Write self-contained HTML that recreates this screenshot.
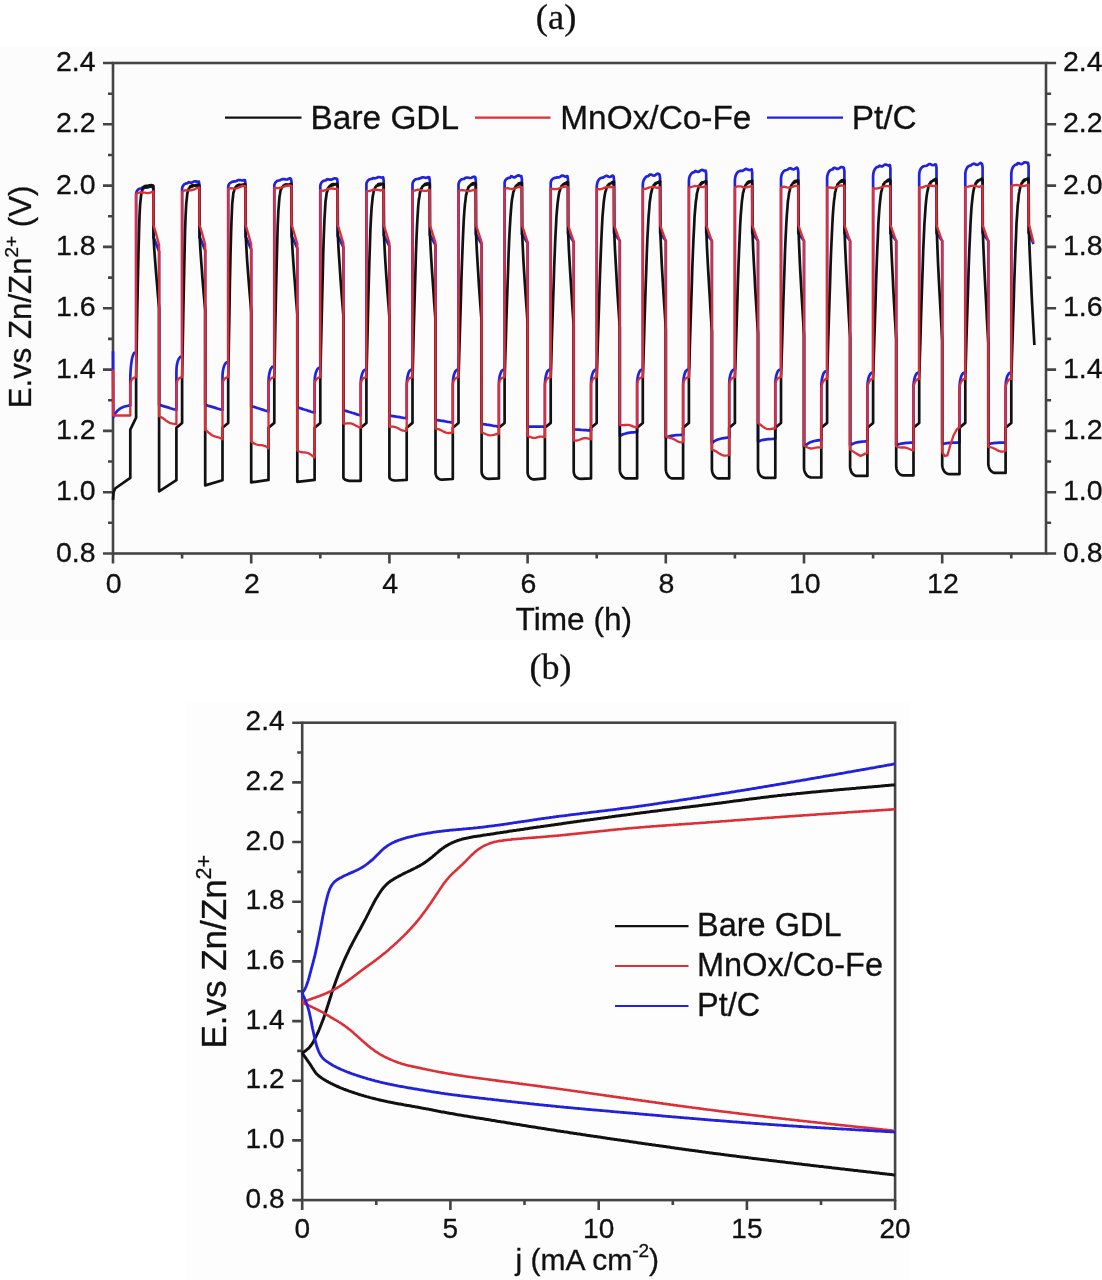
<!DOCTYPE html>
<html><head><meta charset="utf-8"><style>
html,body{margin:0;padding:0;background:#fff;}
body{width:1102px;height:1280px;overflow:hidden;position:relative;}
svg{position:absolute;left:0;top:0;filter:blur(0.45px);}
text{font-family:"Liberation Sans",sans-serif;fill:#111;stroke:#111;stroke-width:0.3px;}
.tl{font-size:28.5px;}
.ser{font-family:"Liberation Serif",serif;font-size:36px;}
</style></head><body>
<svg width="1102" height="1280" viewBox="0 0 1102 1280">
<rect x="0" y="47" width="1102" height="593" fill="#fcfcfc"/>
<rect x="186" y="703" width="724" height="577" fill="#fdfdfd"/>
<text x="535.8" y="28.8" class="ser" style="font-size:36.5px">(a)</text>
<text x="529.5" y="679" class="ser" style="font-size:36px">(b)</text>
<rect x="113.0" y="63.0" width="933.0" height="490.5" fill="none" stroke="#444444" stroke-width="2.6"/>
<path d="M103.0 553.5H113.0M1046.1 553.5H1056.1M108.0 522.8H113.0M1046.1 522.8H1051.1M103.0 492.2H113.0M1046.1 492.2H1056.1M108.0 461.5H113.0M1046.1 461.5H1051.1M103.0 430.9H113.0M1046.1 430.9H1056.1M108.0 400.2H113.0M1046.1 400.2H1051.1M103.0 369.6H113.0M1046.1 369.6H1056.1M108.0 338.9H113.0M1046.1 338.9H1051.1M103.0 308.2H113.0M1046.1 308.2H1056.1M108.0 277.6H113.0M1046.1 277.6H1051.1M103.0 246.9H113.0M1046.1 246.9H1056.1M108.0 216.3H113.0M1046.1 216.3H1051.1M103.0 185.6H113.0M1046.1 185.6H1056.1M108.0 155.0H113.0M1046.1 155.0H1051.1M103.0 124.3H113.0M1046.1 124.3H1056.1M108.0 93.7H113.0M1046.1 93.7H1051.1M103.0 63.0H113.0M1046.1 63.0H1056.1M113.0 553.5V563.5M182.1 553.5V558.5M251.2 553.5V563.5M320.3 553.5V558.5M389.4 553.5V563.5M458.6 553.5V558.5M527.6 553.5V563.5M596.7 553.5V558.5M665.8 553.5V563.5M734.9 553.5V558.5M804.0 553.5V563.5M873.1 553.5V558.5M942.2 553.5V563.5M1011.3 553.5V558.5" stroke="#444444" stroke-width="2.6" fill="none"/>
<path d="M113.0 351.2L113.3 417.1L115.2 413.4L117.4 410.8L119.5 409.0L121.7 407.7L123.8 406.8L126.0 406.2L128.2 405.7L130.3 405.4L130.3 378.8L130.4 374.6L130.6 370.6L130.9 366.8L131.3 363.3L131.8 360.1L132.3 357.4L133.0 355.3L133.7 353.7L134.5 352.7L135.2 352.4L136.1 351.8L136.1 193.9L136.2 192.8L136.5 191.8L137.0 190.8L137.7 190.0L138.5 189.3L139.5 188.8L140.5 188.5L141.6 188.4L142.5 187.3L143.5 187.1L144.4 187.1L145.3 187.4L146.2 187.6L147.1 187.6L148.1 187.4L149.0 187.0L149.9 186.5L150.8 186.3L151.7 186.3L152.8 186.9L153.4 190.2L153.4 237.7L154.4 239.3L159.1 251.5L159.1 404.8L160.8 405.3L162.6 405.9L164.3 406.4L166.0 406.9L167.8 407.4L169.5 407.9L171.2 408.5L172.9 409.0L174.7 409.5L176.4 410.0L176.4 372.0L176.5 369.6L176.6 367.3L176.9 365.1L177.3 363.0L177.8 361.2L178.4 359.6L179.1 358.4L179.8 357.4L180.5 356.9L181.3 356.7L182.1 356.1L182.1 188.7L182.3 187.6L182.6 186.6L183.1 185.6L183.8 184.8L184.6 184.1L185.6 183.6L186.6 183.3L187.7 183.2L188.6 182.2L189.5 182.4L190.4 182.6L191.4 182.6L192.3 182.3L193.2 181.9L194.1 181.5L195.0 181.3L196.0 181.4L196.9 181.6L197.8 181.8L198.9 181.6L199.4 185.0L199.4 237.3L200.5 238.8L205.2 250.5L205.2 404.8L206.9 405.3L208.6 405.9L210.4 406.4L212.1 406.9L213.8 407.4L215.5 407.9L217.3 408.5L219.0 409.0L220.7 409.5L222.5 410.0L222.5 377.5L222.5 375.1L222.7 372.8L223.0 370.6L223.4 368.5L223.9 366.7L224.5 365.1L225.1 363.9L225.8 363.0L226.6 362.4L227.4 362.2L228.2 361.6L228.2 187.2L228.3 186.1L228.6 185.0L229.1 184.1L229.8 183.3L230.7 182.6L231.6 182.1L232.7 181.7L233.7 181.6L234.7 181.3L235.6 181.3L236.5 181.0L237.4 180.5L238.4 180.1L239.3 180.0L240.2 180.1L241.1 180.3L242.0 180.5L243.0 180.4L243.9 180.1L244.9 180.1L245.5 183.5L245.5 236.8L246.5 238.4L251.2 249.4L251.2 406.0L253.0 406.6L254.7 407.1L256.4 407.7L258.2 408.3L259.9 408.8L261.6 409.4L263.3 409.9L265.1 410.5L266.8 411.0L268.5 411.6L268.5 381.8L268.6 379.4L268.8 377.1L269.1 374.9L269.5 372.8L270.0 371.0L270.5 369.4L271.2 368.2L271.9 367.2L272.7 366.7L273.4 366.5L274.3 365.9L274.3 185.9L274.4 184.9L274.7 183.8L275.2 182.9L275.9 182.0L276.7 181.3L277.7 180.8L278.7 180.5L279.8 180.4L280.7 179.9L281.7 179.4L282.6 179.1L283.5 179.0L284.4 179.1L285.3 179.4L286.3 179.5L287.2 179.4L288.1 179.1L289.0 178.6L289.9 178.3L291.0 178.9L291.6 182.3L291.6 236.4L292.6 237.9L297.3 248.3L297.3 407.3L299.0 407.8L300.8 408.4L302.5 408.9L304.2 409.5L306.0 410.0L307.7 410.6L309.4 411.1L311.1 411.7L312.9 412.2L314.6 412.8L314.6 383.1L314.7 380.7L314.8 378.3L315.1 376.1L315.5 374.0L316.0 372.2L316.6 370.7L317.3 369.4L318.0 368.5L318.7 367.9L319.5 367.7L320.3 367.1L320.3 185.9L320.5 184.9L320.8 183.8L321.3 182.9L322.0 182.0L322.8 181.3L323.8 180.8L324.8 180.5L325.9 180.4L326.8 179.3L327.7 179.2L328.6 179.4L329.6 179.6L330.5 179.7L331.4 179.6L332.3 179.2L333.2 178.8L334.2 178.4L335.1 178.4L336.0 178.6L337.1 178.9L337.6 182.3L337.6 235.9L338.7 237.4L343.4 247.2L343.4 410.0L345.1 410.6L346.8 411.1L348.6 411.7L350.3 412.2L352.0 412.8L353.7 413.3L355.5 413.9L357.2 414.4L358.9 415.0L360.7 415.5L360.7 384.9L360.7 382.5L360.9 380.2L361.2 377.9L361.6 375.9L362.1 374.1L362.7 372.5L363.3 371.2L364.0 370.3L364.8 369.8L365.6 369.6L366.4 368.9L366.4 184.4L366.5 183.3L366.8 182.3L367.3 181.3L368.0 180.5L368.9 179.8L369.8 179.3L370.9 179.0L371.9 178.9L372.9 178.1L373.8 178.3L374.7 178.4L375.6 178.2L376.6 177.8L377.5 177.4L378.4 177.1L379.3 177.1L380.2 177.3L381.2 177.5L382.1 177.6L383.1 177.3L383.7 180.7L383.7 235.4L384.7 237.0L389.4 246.2L389.4 415.5L391.2 415.8L392.9 416.1L394.6 416.4L396.4 416.7L398.1 416.9L399.8 417.2L401.5 417.5L403.3 417.8L405.0 418.0L406.7 418.3L406.7 384.9L406.8 382.5L407.0 380.2L407.3 377.9L407.7 375.9L408.2 374.1L408.7 372.5L409.4 371.2L410.1 370.3L410.9 369.8L411.6 369.6L412.5 368.9L412.5 184.4L412.6 183.3L412.9 182.3L413.4 181.3L414.1 180.5L414.9 179.8L415.9 179.3L416.9 179.0L418.0 178.9L418.9 178.6L419.9 178.4L420.8 178.0L421.7 177.5L422.6 177.3L423.5 177.3L424.5 177.5L425.4 177.8L426.3 177.8L427.2 177.6L428.1 177.1L429.2 177.3L429.8 180.7L429.8 235.0L430.8 236.5L435.5 245.1L435.5 419.8L437.2 420.1L439.0 420.4L440.7 420.7L442.4 420.9L444.2 421.2L445.9 421.5L447.6 421.8L449.3 422.0L451.1 422.3L452.8 422.6L452.8 384.9L452.9 382.5L453.0 380.2L453.3 377.9L453.7 375.9L454.2 374.1L454.8 372.5L455.5 371.2L456.2 370.3L456.9 369.8L457.7 369.6L458.5 368.9L458.5 184.4L458.7 183.3L459.0 182.3L459.5 181.3L460.2 180.5L461.0 179.8L462.0 179.3L463.0 179.0L464.1 178.9L465.0 178.1L465.9 177.7L466.8 177.5L467.8 177.6L468.7 177.8L469.6 178.0L470.5 178.0L471.4 177.7L472.4 177.3L473.3 176.9L474.2 176.7L475.3 177.3L475.8 180.7L475.8 234.5L476.9 236.1L481.6 244.0L481.6 423.8L483.3 424.1L485.0 424.4L486.8 424.7L488.5 424.9L490.2 425.2L491.9 425.5L493.7 425.8L495.4 426.0L497.1 426.3L498.9 426.6L498.9 384.9L498.9 382.5L499.1 380.2L499.4 377.9L499.8 375.9L500.3 374.1L500.9 372.5L501.5 371.2L502.2 370.3L503.0 369.8L503.8 369.6L504.6 368.9L504.6 183.2L504.7 182.1L505.0 181.1L505.5 180.1L506.2 179.3L507.1 178.6L508.0 178.1L509.1 177.8L510.1 177.7L511.1 176.2L512.0 176.4L512.9 176.9L513.8 177.3L514.8 177.3L515.7 176.8L516.6 176.1L517.5 175.6L518.4 175.4L519.4 175.6L520.3 176.1L521.3 176.1L521.9 179.5L521.9 234.1L522.9 235.6L527.6 243.0L527.6 426.6L529.4 426.6L531.1 426.6L532.8 426.6L534.6 426.6L536.3 426.6L538.0 426.6L539.7 426.6L541.5 426.6L543.2 426.6L544.9 426.6L544.9 384.9L545.0 382.5L545.2 380.2L545.5 377.9L545.9 375.9L546.4 374.1L546.9 372.5L547.6 371.2L548.3 370.3L549.1 369.8L549.8 369.6L550.7 368.9L550.7 183.2L550.8 182.1L551.1 181.1L551.6 180.1L552.3 179.3L553.1 178.6L554.1 178.1L555.1 177.8L556.2 177.7L557.1 177.2L558.1 177.5L559.0 177.4L559.9 176.9L560.8 176.2L561.7 175.7L562.7 175.6L563.6 175.9L564.5 176.4L565.4 176.7L566.3 176.6L567.4 176.1L568.0 179.5L568.0 233.6L569.0 235.1L573.7 241.9L573.7 429.3L575.4 429.5L577.2 429.6L578.9 429.7L580.6 429.8L582.4 430.0L584.1 430.1L585.8 430.2L587.5 430.3L589.3 430.4L591.0 430.6L591.0 384.9L591.1 382.5L591.2 380.2L591.5 377.9L591.9 375.9L592.4 374.1L593.0 372.5L593.7 371.2L594.4 370.3L595.1 369.8L595.9 369.6L596.7 368.9L596.7 186.9L596.9 185.1L597.2 183.3L597.7 181.7L598.4 180.3L599.2 179.2L600.2 178.4L601.2 177.8L602.3 177.7L603.2 177.6L604.1 177.0L605.0 176.4L606.0 175.9L606.9 175.9L607.8 176.2L608.7 176.7L609.6 177.0L610.6 176.8L611.5 176.2L612.4 175.5L613.5 176.1L614.0 179.5L614.0 233.1L615.1 234.7L619.8 240.8L619.8 436.1L621.5 435.0L623.2 434.2L625.0 433.7L626.7 433.2L628.4 432.9L630.1 432.6L631.9 432.4L633.6 432.3L635.3 432.2L637.1 432.1L637.1 384.9L637.1 382.5L637.3 380.2L637.6 377.9L638.0 375.9L638.5 374.1L639.1 372.5L639.7 371.2L640.4 370.3L641.2 369.8L642.0 369.6L642.8 368.9L642.8 185.3L642.9 183.5L643.2 181.8L643.7 180.2L644.4 178.8L645.3 177.7L646.2 176.8L647.3 176.3L648.3 176.1L649.3 175.0L650.2 174.5L651.1 174.6L652.0 175.0L653.0 175.5L653.9 175.7L654.8 175.4L655.7 174.8L656.6 174.1L657.6 173.7L658.5 173.8L659.5 174.6L660.1 178.0L660.1 233.1L661.1 234.7L665.8 240.8L665.8 437.6L667.6 436.9L669.3 436.3L671.0 435.9L672.8 435.6L674.5 435.4L676.2 435.2L677.9 435.1L679.7 435.0L681.4 434.9L683.1 434.9L683.1 384.9L683.2 382.5L683.4 380.2L683.7 377.9L684.1 375.9L684.6 374.1L685.1 372.5L685.8 371.2L686.5 370.3L687.3 369.8L688.0 369.6L688.9 368.9L688.9 181.3L689.0 179.5L689.3 177.8L689.8 176.2L690.5 174.8L691.3 173.7L692.3 172.8L693.3 172.3L694.4 172.1L695.3 170.9L696.3 171.3L697.2 171.7L698.1 171.9L699.0 171.6L699.9 170.9L700.9 170.3L701.8 169.9L702.7 170.1L703.6 170.5L704.5 170.9L705.6 170.6L706.2 174.0L706.2 233.1L707.2 234.7L711.9 240.8L711.9 443.1L713.6 441.7L715.4 440.6L717.1 439.8L718.8 439.2L720.6 438.7L722.3 438.3L724.0 438.1L725.7 437.9L727.5 437.7L729.2 437.6L729.2 384.9L729.3 382.5L729.4 380.2L729.7 377.9L730.1 375.9L730.6 374.1L731.2 372.5L731.9 371.2L732.6 370.3L733.3 369.8L734.1 369.6L734.9 368.9L734.9 180.1L735.1 178.3L735.4 176.6L735.9 175.0L736.6 173.6L737.4 172.5L738.4 171.6L739.4 171.1L740.5 170.9L741.4 170.8L742.3 170.9L743.2 170.5L744.2 169.8L745.1 169.2L746.0 168.9L746.9 169.1L747.8 169.6L748.8 170.0L749.7 170.0L750.6 169.7L751.7 169.4L752.2 172.7L752.2 233.1L753.3 234.7L758.0 240.8L758.0 441.6L759.7 440.9L761.4 440.3L763.2 439.9L764.9 439.6L766.6 439.4L768.3 439.2L770.1 439.1L771.8 439.0L773.5 438.9L775.3 438.8L775.3 384.9L775.3 382.5L775.5 380.2L775.8 377.9L776.2 375.9L776.7 374.1L777.3 372.5L777.9 371.2L778.6 370.3L779.4 369.8L780.2 369.6L781.0 368.9L781.0 179.2L781.1 177.4L781.4 175.7L781.9 174.1L782.6 172.7L783.5 171.5L784.4 170.7L785.5 170.2L786.5 170.0L787.5 169.7L788.4 169.0L789.3 168.4L790.2 168.2L791.2 168.5L792.1 168.9L793.0 169.3L793.9 169.3L794.8 168.9L795.8 168.2L796.7 167.6L797.7 168.5L798.3 171.8L798.3 233.1L799.3 234.7L804.0 240.8L804.0 447.1L805.8 445.3L807.5 443.9L809.2 442.8L811.0 442.0L812.7 441.4L814.4 441.0L816.1 440.7L817.9 440.4L819.6 440.2L821.3 440.1L821.3 386.4L821.4 384.0L821.6 381.7L821.9 379.5L822.3 377.4L822.8 375.6L823.3 374.0L824.0 372.8L824.7 371.8L825.5 371.3L826.2 371.1L827.1 370.5L827.1 178.6L827.2 176.8L827.5 175.1L828.0 173.5L828.7 172.1L829.5 170.9L830.5 170.1L831.5 169.6L832.6 169.4L833.5 168.0L834.5 167.8L835.4 168.1L836.3 168.6L837.2 169.0L838.1 168.9L839.1 168.4L840.0 167.7L840.9 167.1L841.8 167.0L842.7 167.3L843.8 167.8L844.4 171.2L844.4 233.1L845.4 234.7L850.1 240.8L850.1 445.3L851.8 444.2L853.6 443.4L855.3 442.8L857.0 442.4L858.8 442.1L860.5 441.8L862.2 441.6L863.9 441.5L865.7 441.4L867.4 441.3L867.4 388.0L867.5 385.6L867.6 383.2L867.9 381.0L868.3 378.9L868.8 377.1L869.4 375.6L870.1 374.3L870.8 373.4L871.5 372.8L872.3 372.6L873.1 372.0L873.1 175.8L873.3 174.0L873.6 172.3L874.1 170.7L874.8 169.3L875.6 168.2L876.6 167.3L877.6 166.8L878.7 166.6L879.6 165.7L880.5 166.2L881.4 166.4L882.4 166.3L883.3 165.7L884.2 165.0L885.1 164.6L886.0 164.5L887.0 164.9L887.9 165.3L888.8 165.6L889.9 165.1L890.4 168.5L890.4 233.1L891.5 234.7L896.2 240.8L896.2 445.3L897.9 444.6L899.6 444.0L901.4 443.6L903.1 443.3L904.8 443.1L906.5 442.9L908.3 442.8L910.0 442.7L911.7 442.6L913.5 442.5L913.5 388.0L913.5 385.6L913.7 383.2L914.0 381.0L914.4 378.9L914.9 377.1L915.5 375.6L916.1 374.3L916.8 373.4L917.6 372.8L918.4 372.6L919.2 372.0L919.2 175.2L919.3 173.4L919.6 171.7L920.1 170.1L920.8 168.7L921.7 167.6L922.6 166.7L923.7 166.2L924.7 166.0L925.7 166.0L926.6 165.8L927.5 165.2L928.4 164.5L929.4 164.1L930.3 164.2L931.2 164.6L932.1 165.0L933.0 165.2L934.0 165.0L934.9 164.4L935.9 164.5L936.5 167.8L936.5 233.1L937.5 234.7L942.2 240.8L942.2 444.1L944.0 443.7L945.7 443.3L947.4 443.1L949.2 442.9L950.9 442.8L952.6 442.7L954.3 442.7L956.1 442.6L957.8 442.6L959.5 442.5L959.5 388.0L959.6 385.6L959.8 383.2L960.1 381.0L960.5 378.9L961.0 377.1L961.5 375.6L962.2 374.3L962.9 373.4L963.7 372.8L964.4 372.6L965.3 372.0L965.3 174.6L965.4 172.8L965.7 171.1L966.2 169.5L966.9 168.1L967.7 166.9L968.7 166.1L969.7 165.6L970.8 165.4L971.7 164.7L972.7 164.0L973.6 163.7L974.5 163.8L975.4 164.2L976.3 164.7L977.3 164.8L978.2 164.5L979.1 163.9L980.0 163.2L980.9 162.9L982.0 163.9L982.6 167.2L982.6 233.1L983.6 234.7L988.3 240.8L988.3 444.1L990.0 443.7L991.8 443.3L993.5 443.1L995.2 442.9L997.0 442.8L998.7 442.7L1000.4 442.7L1002.1 442.6L1003.9 442.6L1005.6 442.5L1005.6 388.0L1005.7 385.6L1005.8 383.2L1006.1 381.0L1006.5 378.9L1007.0 377.1L1007.6 375.6L1008.3 374.3L1009.0 373.4L1009.7 372.8L1010.5 372.6L1011.3 372.0L1011.3 173.7L1011.5 171.9L1011.8 170.1L1012.3 168.6L1013.0 167.2L1013.8 166.0L1014.8 165.2L1015.8 164.6L1016.9 164.5L1017.8 163.0L1018.7 163.2L1019.6 163.6L1020.6 164.0L1021.5 164.1L1022.4 163.7L1023.3 163.1L1024.2 162.4L1025.2 162.2L1026.1 162.4L1027.0 162.8L1028.1 162.9L1028.6 166.3L1028.6 233.1L1029.7 234.7L1033.5 243.9" fill="none" stroke="#2222dd" stroke-width="2.7" stroke-linejoin="round"/>
<path d="M113.0 499.9L113.6 492.2L115.1 488.5L130.3 477.8L130.3 429.6L136.1 417.7L136.1 378.8L136.7 346.6L137.2 314.6L137.8 283.6L138.4 255.7L139.0 232.9L139.5 216.4L140.1 204.9L140.7 198.8L141.3 193.9L141.8 191.5L142.4 189.8L143.0 188.2L143.6 188.2L144.1 186.7L144.7 187.5L145.3 186.0L145.9 186.9L146.4 185.8L147.0 186.4L147.6 185.9L148.2 185.8L148.8 186.2L149.3 185.4L149.9 186.4L150.5 185.2L151.1 186.4L151.6 185.2L152.2 186.2L152.8 185.4L153.4 185.8L153.6 237.7L154.3 249.8L155.0 259.4L155.7 268.4L156.4 276.9L157.1 285.0L157.7 293.0L158.4 300.7L159.1 308.2L159.1 491.3L176.4 480.2L176.4 427.8L182.1 422.9L182.1 378.8L182.7 346.5L183.3 314.4L183.9 283.4L184.5 255.4L185.0 232.6L185.6 216.0L186.2 204.4L186.8 198.6L187.3 193.3L187.9 191.3L188.5 189.2L189.1 188.1L189.6 187.6L190.2 186.4L190.8 187.0L191.4 185.6L191.9 186.6L192.5 185.2L193.1 186.2L193.7 185.3L194.2 185.7L194.8 185.5L195.4 185.2L196.0 185.8L196.5 184.9L197.1 185.9L197.7 184.7L198.3 185.9L198.8 184.8L199.4 185.7L199.7 237.3L200.4 249.8L201.1 259.8L201.8 269.0L202.4 277.8L203.1 286.2L203.8 294.4L204.5 302.4L205.2 310.2L205.2 485.4L222.5 480.2L222.5 427.8L228.2 422.9L228.2 378.8L228.8 346.4L229.4 314.3L229.9 283.2L230.5 255.2L231.1 232.3L231.7 215.7L232.2 204.1L232.8 198.3L233.4 192.8L234.0 191.1L234.6 188.5L235.1 187.9L235.7 187.0L236.3 186.2L236.9 186.4L237.4 185.3L238.0 186.1L238.6 184.8L239.2 185.9L239.7 184.7L240.3 185.5L240.9 184.9L241.5 185.1L242.0 185.1L242.6 184.7L243.2 185.4L243.8 184.4L244.3 185.5L244.9 184.3L245.5 185.4L245.8 236.9L246.5 249.8L247.1 260.1L247.8 269.6L248.5 278.6L249.2 287.4L249.9 295.8L250.6 304.1L251.2 312.1L251.2 482.4L268.5 479.9L268.5 427.8L274.3 422.9L274.3 378.8L274.9 350.0L275.4 321.3L276.0 293.2L276.6 266.9L277.2 244.0L277.7 225.7L278.3 212.0L278.9 203.9L279.5 196.7L280.0 194.0L280.6 190.2L281.2 189.4L281.8 187.5L282.3 187.0L282.9 186.5L283.5 185.6L284.1 186.0L284.6 184.8L285.2 185.8L285.8 184.4L286.4 185.5L287.0 184.4L287.5 185.1L288.1 184.6L288.7 184.6L289.3 184.9L289.8 184.2L290.4 185.1L291.0 184.0L291.6 185.2L291.8 236.5L292.5 249.8L293.2 260.4L293.9 270.2L294.6 279.5L295.3 288.5L295.9 297.2L296.6 305.7L297.3 314.1L297.3 481.8L314.6 479.9L314.6 427.8L320.3 422.9L320.3 378.8L320.9 352.8L321.5 326.9L322.1 301.4L322.7 276.9L323.2 254.6L323.8 235.8L324.4 220.7L325.0 210.4L325.5 201.7L326.1 197.5L326.7 192.7L327.3 191.4L327.8 188.6L328.4 188.1L329.0 186.8L329.6 186.2L330.1 186.0L330.7 185.1L331.3 185.7L331.9 184.4L332.4 185.4L333.0 184.1L333.6 185.0L334.2 184.1L334.7 184.6L335.3 184.3L335.9 184.1L336.5 184.6L337.0 183.7L337.6 184.8L337.9 236.1L338.6 249.8L339.3 260.7L340.0 270.8L340.6 280.4L341.3 289.7L342.0 298.7L342.7 307.4L343.4 316.0L343.4 477.2L343.5 477.7L343.7 478.3L344.1 478.8L344.7 479.3L345.4 479.8L346.2 480.1L347.2 480.4L348.2 480.7L349.2 480.8L350.3 480.8L360.7 480.8L360.7 427.8L366.4 422.9L366.4 378.8L367.0 355.1L367.6 331.5L368.1 308.1L368.7 285.4L369.3 264.2L369.9 245.3L370.4 229.6L371.0 217.4L371.6 207.6L372.2 201.8L372.8 196.0L373.3 193.8L373.9 190.2L374.5 189.6L375.1 187.5L375.6 187.1L376.2 186.2L376.8 185.5L377.4 185.6L377.9 184.5L378.5 185.3L379.1 184.0L379.7 185.0L380.2 183.8L380.8 184.6L381.4 183.8L382.0 184.1L382.5 184.1L383.1 183.6L383.7 184.3L384.0 235.7L384.7 249.8L385.3 261.0L386.0 271.4L386.7 281.3L387.4 290.9L388.1 300.1L388.8 309.1L389.4 317.9L389.4 477.2L389.5 477.7L389.8 478.3L390.2 478.8L390.8 479.3L391.5 479.7L392.3 480.0L393.2 480.2L394.2 480.4L395.3 480.5L396.4 480.5L406.7 479.9L406.7 427.8L412.5 422.9L412.5 378.8L413.1 357.0L413.6 335.3L414.2 313.8L414.8 292.7L415.4 272.6L415.9 254.1L416.5 238.3L417.1 224.7L417.7 214.2L418.2 206.7L418.8 200.0L419.4 196.8L420.0 192.4L420.5 191.4L421.1 188.5L421.7 188.2L422.3 186.6L422.8 186.2L423.4 185.7L424.0 184.9L424.6 185.2L425.2 184.0L425.7 184.9L426.3 183.6L426.9 184.6L427.5 183.4L428.0 184.1L428.6 183.6L429.2 183.6L429.8 183.8L430.0 235.3L430.7 249.8L431.4 261.3L432.1 272.1L432.8 282.2L433.5 292.0L434.1 301.5L434.8 310.8L435.5 319.9L435.5 472.6L435.6 473.8L435.9 474.9L436.3 476.0L436.8 477.0L437.5 477.8L438.4 478.6L439.3 479.1L440.3 479.5L441.3 479.7L442.4 479.7L452.8 479.0L452.8 427.8L458.5 422.9L458.5 378.8L459.1 358.7L459.7 338.6L460.3 318.6L460.9 298.9L461.4 279.9L462.0 262.1L462.6 246.6L463.2 232.0L463.7 221.1L464.3 212.0L464.9 204.7L465.5 200.1L466.0 195.3L466.6 193.5L467.2 190.1L467.8 189.6L468.3 187.3L468.9 187.1L469.5 185.9L470.1 185.5L470.6 185.2L471.2 184.3L471.8 184.9L472.4 183.5L472.9 184.5L473.5 183.2L474.1 184.1L474.7 183.1L475.2 183.6L475.8 183.3L476.1 234.9L476.8 249.8L477.5 261.7L478.2 272.7L478.8 283.1L479.5 293.2L480.2 303.0L480.9 312.5L481.6 321.8L481.6 471.3L481.7 472.5L481.9 473.7L482.3 474.8L482.9 475.8L483.6 476.7L484.4 477.4L485.4 478.0L486.4 478.5L487.4 478.7L488.5 478.8L498.9 478.4L498.9 427.8L504.6 422.9L504.6 378.8L505.2 360.1L505.8 341.4L506.3 322.7L506.9 304.3L507.5 286.4L508.1 269.4L508.6 254.2L509.2 239.1L509.8 228.0L510.4 217.6L511.0 209.9L511.5 204.0L512.1 198.7L512.7 195.9L513.3 192.1L513.8 191.2L514.4 188.4L515.0 188.2L515.6 186.3L516.1 186.2L516.7 185.3L517.3 184.7L517.9 184.8L518.4 183.7L519.0 184.5L519.6 183.1L520.2 184.1L520.7 182.8L521.3 183.7L521.9 182.9L522.2 234.5L522.9 249.7L523.5 262.0L524.2 273.3L524.9 284.0L525.6 294.4L526.3 304.4L527.0 314.2L527.6 323.7L527.6 472.3L527.7 473.5L528.0 474.6L528.4 475.7L529.0 476.6L529.7 477.5L530.5 478.2L531.4 478.8L532.4 479.1L533.5 479.3L534.6 479.3L544.9 478.4L544.9 427.8L550.7 422.9L550.7 378.8L551.3 360.0L551.8 341.3L552.4 322.6L553.0 304.2L553.6 286.2L554.1 269.1L554.7 254.0L555.3 238.7L555.9 227.9L556.4 217.1L557.0 209.8L557.6 203.3L558.2 198.6L558.7 195.3L559.3 191.9L559.9 190.7L560.5 188.0L561.0 187.9L561.6 185.8L562.2 186.0L562.8 184.7L563.4 184.6L563.9 184.1L564.5 183.5L565.1 183.9L565.7 182.8L566.2 183.7L566.8 182.3L567.4 183.4L568.0 182.2L568.2 234.1L568.9 249.7L569.6 262.3L570.3 273.9L571.0 284.9L571.7 295.5L572.3 305.8L573.0 315.9L573.7 325.7L573.7 471.3L573.8 472.5L574.1 473.7L574.5 474.8L575.0 475.8L575.7 476.7L576.6 477.4L577.5 478.0L578.5 478.5L579.5 478.7L580.6 478.8L591.0 478.4L591.0 427.8L596.7 422.9L596.7 378.8L597.3 360.0L597.9 341.2L598.5 322.5L599.1 304.0L599.6 286.0L600.2 268.9L600.8 253.6L601.4 238.5L601.9 227.7L602.5 216.6L603.1 209.7L603.7 202.7L604.2 198.5L604.8 194.7L605.4 191.7L606.0 190.2L606.5 187.7L607.1 187.5L607.7 185.3L608.3 185.7L608.8 184.1L609.4 184.4L610.0 183.5L610.6 183.4L611.1 183.3L611.7 182.5L612.3 183.2L612.9 182.0L613.4 183.0L614.0 181.7L614.3 233.7L615.0 249.7L615.7 262.6L616.4 274.5L617.0 285.8L617.7 296.7L618.4 307.2L619.1 317.5L619.8 327.6L619.8 468.9L619.9 470.4L620.1 471.8L620.5 473.2L621.1 474.5L621.8 475.6L622.6 476.6L623.6 477.4L624.6 477.9L625.6 478.3L626.7 478.4L637.1 478.4L637.1 427.8L642.8 422.9L642.8 378.8L643.4 359.9L644.0 341.1L644.5 322.4L645.1 303.9L645.7 285.8L646.3 268.7L646.8 253.2L647.4 238.3L648.0 227.3L648.6 216.2L649.2 209.5L649.7 202.2L650.3 198.3L650.9 194.1L651.5 191.6L652.0 189.6L652.6 187.5L653.2 187.0L653.8 185.0L654.3 185.4L654.9 183.6L655.5 184.2L656.1 182.9L656.6 183.2L657.2 182.6L657.8 182.4L658.4 182.6L658.9 181.7L659.5 182.6L660.1 181.3L660.4 233.3L661.1 249.7L661.7 262.9L662.4 275.1L663.1 286.7L663.8 297.9L664.5 308.7L665.2 319.2L665.8 329.5L665.8 468.9L665.9 470.4L666.2 471.8L666.6 473.2L667.2 474.5L667.9 475.6L668.7 476.6L669.6 477.4L670.6 477.9L671.7 478.3L672.8 478.4L683.1 478.4L683.1 427.8L688.9 422.9L688.9 378.8L689.5 359.9L690.0 341.1L690.6 322.3L691.2 303.7L691.8 285.7L692.3 268.5L692.9 252.7L693.5 238.2L694.1 226.9L694.6 215.9L695.2 209.2L695.8 201.7L696.4 198.1L696.9 193.5L697.5 191.4L698.1 188.9L698.7 187.3L699.2 186.4L699.8 184.7L700.4 184.9L701.0 183.2L701.6 183.9L702.1 182.3L702.7 183.0L703.3 182.0L703.9 182.2L704.4 181.9L705.0 181.5L705.6 182.0L706.2 181.0L706.4 232.9L707.1 249.7L707.8 263.2L708.5 275.7L709.2 287.6L709.9 299.0L710.5 310.1L711.2 320.9L711.9 331.5L711.9 468.9L712.0 470.4L712.3 471.8L712.7 473.2L713.2 474.5L713.9 475.6L714.8 476.6L715.7 477.4L716.7 477.9L717.7 478.3L718.8 478.4L729.2 478.4L729.2 427.8L734.9 422.9L734.9 378.8L735.5 359.9L736.1 341.0L736.7 322.2L737.3 303.6L737.8 285.5L738.4 268.2L739.0 252.2L739.6 238.1L740.1 226.4L740.7 215.8L741.3 208.7L741.9 201.4L742.4 197.8L743.0 193.0L743.6 191.3L744.2 188.3L744.7 187.2L745.3 185.8L745.9 184.6L746.5 184.3L747.0 182.9L747.6 183.5L748.2 181.9L748.8 182.7L749.3 181.4L749.9 182.1L750.5 181.3L751.1 181.4L751.6 181.4L752.2 180.8L752.5 232.5L753.2 249.7L753.9 263.6L754.6 276.3L755.2 288.5L755.9 300.2L756.6 311.5L757.3 322.6L758.0 333.4L758.0 468.3L758.1 469.8L758.3 471.2L758.7 472.6L759.3 473.9L760.0 475.0L760.8 476.0L761.8 476.7L762.8 477.3L763.8 477.7L764.9 477.8L775.3 477.8L775.3 427.8L781.0 422.9L781.0 378.8L781.6 359.8L782.2 340.9L782.7 322.1L783.3 303.4L783.9 285.3L784.5 268.0L785.0 251.7L785.6 238.1L786.2 225.8L786.8 215.7L787.4 208.2L787.9 201.2L788.5 197.4L789.1 192.6L789.7 191.0L790.2 187.7L790.8 187.0L791.4 185.1L792.0 184.4L792.5 183.7L793.1 182.7L793.7 182.9L794.3 181.5L794.8 182.4L795.4 180.9L796.0 181.8L796.6 180.7L797.1 181.2L797.7 180.7L798.3 180.6L798.6 232.1L799.3 249.7L799.9 263.9L800.6 277.0L801.3 289.4L802.0 301.3L802.7 313.0L803.4 324.3L804.0 335.4L804.0 467.7L804.1 469.2L804.4 470.6L804.8 472.0L805.4 473.3L806.1 474.4L806.9 475.4L807.8 476.2L808.8 476.8L809.9 477.2L811.0 477.3L821.3 477.5L821.3 427.8L827.1 422.9L827.1 378.8L827.7 359.8L828.2 340.8L828.8 321.9L829.4 303.3L830.0 285.1L830.5 267.8L831.1 251.3L831.7 238.0L832.3 225.2L832.8 215.6L833.4 207.6L834.0 201.0L834.6 196.9L835.1 192.3L835.7 190.6L836.3 187.3L836.9 186.8L837.4 184.5L838.0 184.3L838.6 183.1L839.2 182.5L839.8 182.3L840.3 181.3L840.9 181.9L841.5 180.5L842.1 181.5L842.6 180.1L843.2 181.0L843.8 180.1L844.4 180.5L844.6 231.7L845.3 249.7L846.0 264.2L846.7 277.6L847.4 290.3L848.1 302.5L848.7 314.4L849.4 326.0L850.1 337.3L850.1 466.4L850.2 467.9L850.5 469.4L850.9 470.8L851.4 472.0L852.1 473.2L853.0 474.1L853.9 474.9L854.9 475.5L855.9 475.8L857.0 475.9L867.4 475.9L867.4 427.8L873.1 422.9L873.1 378.8L873.7 359.8L874.3 340.8L874.9 321.8L875.5 303.1L876.0 284.9L876.6 267.6L877.2 251.0L877.8 237.9L878.3 224.7L878.9 215.5L879.5 207.0L880.1 200.9L880.6 196.3L881.2 192.1L881.8 190.1L882.4 186.9L882.9 186.4L883.5 184.0L884.1 184.1L884.7 182.4L885.2 182.4L885.8 181.7L886.4 181.1L887.0 181.3L887.5 180.2L888.1 181.0L888.7 179.7L889.3 180.7L889.8 179.5L890.4 180.3L890.7 231.3L891.4 249.7L892.1 264.5L892.8 278.2L893.4 291.2L894.1 303.7L894.8 315.8L895.5 327.6L896.2 339.2L896.2 465.8L896.3 467.3L896.5 468.8L896.9 470.1L897.5 471.4L898.2 472.5L899.0 473.5L900.0 474.3L901.0 474.9L902.0 475.2L903.1 475.3L913.5 475.3L913.5 427.8L919.2 422.9L919.2 378.8L919.8 359.7L920.4 340.7L920.9 321.7L921.5 303.0L922.1 284.7L922.7 267.3L923.2 250.7L923.8 237.7L924.4 224.3L925.0 215.3L925.6 206.4L926.1 200.8L926.7 195.7L927.3 191.9L927.9 189.6L928.4 186.6L929.0 186.0L929.6 183.6L930.2 183.8L930.7 181.9L931.3 182.2L931.9 181.0L932.5 181.0L933.0 180.7L933.6 180.0L934.2 180.5L934.8 179.4L935.3 180.3L935.9 179.0L936.5 180.1L936.8 230.9L937.5 249.7L938.1 264.8L938.8 278.8L939.5 292.1L940.2 304.8L940.9 317.2L941.6 329.3L942.2 341.2L942.2 464.6L942.3 466.1L942.6 467.5L943.0 468.9L943.6 470.2L944.3 471.3L945.1 472.3L946.0 473.1L947.0 473.6L948.1 474.0L949.2 474.1L959.5 474.1L959.5 427.8L965.3 422.9L965.3 378.8L965.9 359.7L966.4 340.6L967.0 321.6L967.6 302.8L968.2 284.5L968.7 267.1L969.3 250.6L969.9 237.3L970.5 224.0L971.0 215.1L971.6 205.9L972.2 200.6L972.8 195.1L973.3 191.8L973.9 188.9L974.5 186.5L975.1 185.5L975.6 183.2L976.2 183.4L976.8 181.4L977.4 181.9L978.0 180.4L978.5 180.8L979.1 180.0L979.7 179.9L980.3 179.9L980.8 179.1L981.4 179.8L982.0 178.6L982.6 179.7L982.8 230.5L983.5 249.7L984.2 265.1L984.9 279.4L985.6 293.0L986.3 306.0L986.9 318.7L987.6 331.0L988.3 343.1L988.3 463.4L988.4 464.9L988.7 466.3L989.1 467.7L989.6 469.0L990.3 470.1L991.2 471.1L992.1 471.8L993.1 472.4L994.1 472.8L995.2 472.9L1005.6 472.9L1005.6 427.8L1011.3 422.9L1011.3 378.8L1011.9 359.6L1012.5 340.5L1013.1 321.5L1013.7 302.7L1014.2 284.3L1014.8 266.9L1015.4 250.6L1016.0 236.9L1016.5 223.7L1017.1 214.8L1017.7 205.5L1018.3 200.4L1018.8 194.5L1019.4 191.6L1020.0 188.3L1020.6 186.3L1021.1 184.9L1021.7 183.0L1022.3 182.9L1022.9 181.0L1023.4 181.6L1024.0 179.9L1024.6 180.6L1025.2 179.4L1025.7 179.7L1026.3 179.2L1026.9 178.9L1027.5 179.3L1028.0 178.4L1028.6 179.3L1028.9 230.1L1029.6 249.7L1030.3 265.5L1031.0 280.0L1031.6 293.9L1032.3 307.2L1033.0 320.1L1033.7 332.7L1034.4 345.0" fill="none" stroke="#111" stroke-width="2.7" stroke-linejoin="round"/>
<path d="M113.0 369.6L113.2 415.5L130.3 415.5L130.3 384.9L130.4 383.4L130.8 382.0L131.3 380.6L132.0 379.5L132.9 378.5L133.9 377.8L135.0 377.4L136.1 377.2L136.1 193.9L139.0 192.7L141.8 192.3L144.7 192.7L147.6 193.1L150.5 192.7L153.4 191.4L153.4 224.9L154.4 227.9L159.1 244.8L159.1 416.3L160.8 417.0L162.6 418.0L164.3 419.2L166.0 420.6L167.8 421.8L169.5 422.8L171.2 423.4L172.9 423.7L174.7 423.9L176.4 424.3L176.4 384.9L176.5 383.4L176.8 382.0L177.4 380.6L178.1 379.5L179.0 378.5L179.9 377.8L181.0 377.4L182.1 377.2L182.1 191.8L185.0 190.2L187.9 190.3L190.8 190.4L193.7 189.7L196.5 188.2L199.4 187.5L199.4 224.9L200.5 227.9L205.2 244.4L205.2 429.7L206.9 431.1L208.6 432.6L210.4 434.0L212.1 435.3L213.8 436.2L215.5 436.7L217.3 437.1L219.0 437.5L220.7 438.2L222.5 439.2L222.5 384.9L222.6 383.4L222.9 382.0L223.4 380.6L224.1 379.5L225.0 378.5L226.0 377.8L227.1 377.4L228.2 377.2L228.2 188.7L231.1 188.2L234.0 188.6L236.9 188.3L239.7 187.1L242.6 185.9L245.5 186.2L245.5 224.9L246.5 227.9L251.2 244.1L251.2 441.5L253.0 442.7L254.7 443.8L256.4 444.5L258.2 444.9L259.9 445.1L261.6 445.2L263.3 445.5L265.1 446.1L266.8 447.0L268.5 448.2L268.5 384.9L268.6 383.4L269.0 382.0L269.5 380.6L270.2 379.5L271.1 378.5L272.1 377.8L273.2 377.4L274.3 377.2L274.3 187.8L277.2 188.2L280.0 188.0L282.9 187.0L285.8 185.8L288.7 185.4L291.6 185.9L291.6 224.9L292.6 227.9L297.3 243.7L297.3 450.6L299.0 451.5L300.8 452.0L302.5 452.3L304.2 452.4L306.0 452.6L307.7 453.0L309.4 453.8L311.1 454.9L312.9 456.2L314.6 457.3L314.6 384.9L314.7 383.4L315.0 382.0L315.6 380.6L316.3 379.5L317.2 378.5L318.1 377.8L319.2 377.4L320.3 377.2L320.3 190.2L323.2 190.8L326.1 189.9L329.0 188.8L331.9 188.3L334.7 188.8L337.6 188.7L337.6 224.9L338.7 227.9L343.4 243.3L343.4 423.5L345.1 423.6L346.8 423.4L348.6 423.3L350.3 423.3L352.0 423.7L353.7 424.4L355.5 425.4L357.2 426.3L358.9 427.1L360.7 427.5L360.7 384.9L360.8 383.4L361.1 382.0L361.6 380.6L362.3 379.5L363.2 378.5L364.2 377.8L365.3 377.4L366.4 377.2L366.4 191.1L369.3 191.1L372.2 190.0L375.1 189.5L377.9 189.9L380.8 190.5L383.7 189.6L383.7 224.9L384.7 227.9L389.4 243.0L389.4 426.8L391.2 426.7L392.9 426.6L394.6 426.9L396.4 427.5L398.1 428.3L399.8 429.3L401.5 430.1L403.3 430.7L405.0 430.9L406.7 430.8L406.7 384.9L406.8 383.4L407.2 382.0L407.7 380.6L408.4 379.5L409.3 378.5L410.3 377.8L411.4 377.4L412.5 377.2L412.5 191.1L415.4 190.3L418.2 189.7L421.1 190.1L424.0 190.8L426.9 190.8L429.8 189.6L429.8 224.9L430.8 227.9L435.5 242.6L435.5 428.7L437.2 428.8L439.0 429.3L440.7 430.1L442.4 431.0L444.2 431.9L445.9 432.6L447.6 433.0L449.3 433.0L451.1 432.8L452.8 432.7L452.8 384.9L452.9 383.4L453.2 382.0L453.8 380.6L454.5 379.5L455.4 378.5L456.3 377.8L457.4 377.4L458.5 377.2L458.5 191.1L461.4 190.0L464.3 190.3L467.2 191.0L470.1 191.0L472.9 190.2L475.8 189.6L475.8 224.9L476.9 227.9L481.6 242.2L481.6 432.4L483.3 433.0L485.0 433.8L486.8 434.5L488.5 435.1L490.2 435.4L491.9 435.2L493.7 434.8L495.4 434.3L497.1 434.0L498.9 434.0L498.9 384.9L499.0 383.4L499.3 382.0L499.8 380.6L500.5 379.5L501.4 378.5L502.4 377.8L503.5 377.4L504.6 377.2L504.6 188.7L507.5 188.1L510.4 188.8L513.3 188.8L516.1 188.0L519.0 186.8L521.9 187.2L521.9 224.9L522.9 227.9L527.6 241.8L527.6 435.7L529.4 436.6L531.1 437.4L532.8 437.8L534.6 437.9L536.3 437.6L538.0 437.1L539.7 436.7L541.5 436.6L543.2 436.8L544.9 437.2L544.9 384.9L545.0 383.4L545.4 382.0L545.9 380.6L546.6 379.5L547.5 378.5L548.5 377.8L549.6 377.4L550.7 377.2L550.7 188.7L553.6 189.0L556.4 189.1L559.3 188.3L562.2 187.1L565.1 186.5L568.0 187.2L568.0 224.9L569.0 227.9L573.7 241.5L573.7 440.6L575.4 440.7L577.2 440.5L578.9 440.0L580.6 439.3L582.4 438.7L584.1 438.2L585.8 438.1L587.5 438.4L589.3 438.8L591.0 439.3L591.0 384.9L591.1 383.4L591.4 382.0L592.0 380.6L592.7 379.5L593.6 378.5L594.5 377.8L595.6 377.4L596.7 377.2L596.7 188.7L599.6 189.4L602.5 188.6L605.4 187.4L608.3 186.8L611.1 187.0L614.0 187.2L614.0 224.9L615.1 227.9L619.8 241.1L619.8 424.7L621.5 425.1L623.2 425.2L625.0 425.0L626.7 424.8L628.4 424.9L630.1 425.3L631.9 425.9L633.6 426.7L635.3 427.2L637.1 427.5L637.1 384.9L637.2 383.4L637.5 382.0L638.0 380.6L638.7 379.5L639.6 378.5L640.6 377.8L641.7 377.4L642.8 377.2L642.8 188.7L645.7 188.9L648.6 187.7L651.5 187.0L654.3 187.2L657.2 187.9L660.1 187.2L660.1 224.9L661.1 227.9L665.8 241.1L665.8 436.6L667.6 437.2L669.3 437.6L671.0 438.1L672.8 438.7L674.5 439.6L676.2 440.6L677.9 441.5L679.7 442.1L681.4 442.3L683.1 442.1L683.1 384.9L683.2 383.4L683.6 382.0L684.1 380.6L684.8 379.5L685.7 378.5L686.7 377.8L687.8 377.4L688.9 377.2L688.9 187.5L691.8 186.8L694.6 186.0L697.5 186.2L700.4 186.9L703.3 187.1L706.2 185.9L706.2 224.9L707.2 227.9L711.9 241.1L711.9 449.5L713.6 450.2L715.4 451.1L717.1 452.1L718.8 453.2L720.6 454.3L722.3 455.1L724.0 455.6L725.7 455.6L727.5 455.4L729.2 455.0L729.2 384.9L729.3 383.4L729.6 382.0L730.2 380.6L730.9 379.5L731.8 378.5L732.7 377.8L733.8 377.4L734.9 377.2L734.9 187.5L737.8 186.3L740.7 186.4L743.6 187.1L746.5 187.4L749.3 186.7L752.2 185.9L752.2 224.9L753.3 227.9L758.0 241.1L758.0 422.9L759.7 424.2L761.4 425.5L763.2 426.9L764.9 428.0L766.6 428.8L768.3 429.1L770.1 429.0L771.8 428.8L773.5 428.5L775.3 428.4L775.3 384.9L775.4 383.4L775.7 382.0L776.2 380.6L776.9 379.5L777.8 378.5L778.8 377.8L779.9 377.4L781.0 377.2L781.0 187.5L783.9 186.6L786.8 187.3L789.7 187.6L792.5 187.0L795.4 185.8L798.3 185.9L798.3 224.9L799.3 227.9L804.0 241.1L804.0 445.6L805.8 446.6L807.5 447.5L809.2 448.2L811.0 448.5L812.7 448.4L814.4 448.0L816.1 447.6L817.9 447.3L819.6 447.4L821.3 447.8L821.3 389.5L821.4 387.4L821.8 385.4L822.3 383.5L823.0 381.9L823.9 380.6L824.9 379.6L826.0 379.0L827.1 378.8L827.1 187.5L830.0 187.5L832.8 187.9L835.7 187.3L838.6 186.1L841.5 185.3L844.4 185.9L844.4 224.9L845.4 227.9L850.1 241.1L850.1 449.6L855.3 452.9L860.5 456.0L864.8 453.9L867.4 452.9L867.4 389.5L867.5 387.4L867.8 385.4L868.4 383.5L869.1 381.9L870.0 380.6L870.9 379.6L872.0 379.0L873.1 378.8L873.1 188.1L876.0 188.7L878.9 188.2L881.8 187.0L884.7 186.2L887.5 186.2L890.4 186.5L890.4 224.9L891.5 227.9L896.2 241.1L896.2 446.2L897.9 447.0L899.6 447.4L901.4 447.5L903.1 447.5L904.8 447.5L906.5 447.9L908.3 448.5L910.0 449.3L911.7 450.0L913.5 450.5L913.5 389.5L913.6 387.4L913.9 385.4L914.4 383.5L915.1 381.9L916.0 380.6L917.0 379.6L918.1 379.0L919.2 378.8L919.2 187.2L922.1 187.6L925.0 186.4L927.9 185.5L930.7 185.5L933.6 186.1L936.5 185.6L936.5 224.9L937.5 227.9L942.2 241.1L942.2 452.3L944.8 456.0L947.4 455.4L950.0 446.2L953.5 435.5L956.9 429.3L959.5 427.2L959.5 389.5L959.6 387.4L960.0 385.4L960.5 383.5L961.2 381.9L962.1 380.6L963.1 379.6L964.2 379.0L965.3 378.8L965.3 187.2L968.2 186.7L971.0 185.8L973.9 185.7L976.8 186.3L979.7 186.8L982.6 185.6L982.6 224.9L983.6 227.9L988.3 241.1L988.3 446.7L990.0 447.1L991.8 447.5L993.5 448.2L995.2 449.1L997.0 450.1L998.7 450.9L1000.4 451.5L1002.1 451.6L1003.9 451.4L1005.6 451.0L1005.6 389.5L1005.7 387.4L1006.0 385.4L1006.6 383.5L1007.3 381.9L1008.2 380.6L1009.1 379.6L1010.2 379.0L1011.3 378.8L1011.3 186.2L1014.2 185.1L1017.1 185.0L1020.0 185.6L1022.9 186.1L1025.7 185.7L1028.6 184.7L1028.6 224.9L1029.7 227.0L1033.5 242.3" fill="none" stroke="#dc2f36" stroke-width="2.3" stroke-linejoin="round"/>
<text x="95.6" y="561.5" text-anchor="end" class="tl">0.8</text>
<text x="1063" y="561.5" class="tl">0.8</text>
<text x="95.6" y="500.2" text-anchor="end" class="tl">1.0</text>
<text x="1063" y="500.2" class="tl">1.0</text>
<text x="95.6" y="438.9" text-anchor="end" class="tl">1.2</text>
<text x="1063" y="438.9" class="tl">1.2</text>
<text x="95.6" y="377.6" text-anchor="end" class="tl">1.4</text>
<text x="1063" y="377.6" class="tl">1.4</text>
<text x="95.6" y="316.2" text-anchor="end" class="tl">1.6</text>
<text x="1063" y="316.2" class="tl">1.6</text>
<text x="95.6" y="254.9" text-anchor="end" class="tl">1.8</text>
<text x="1063" y="254.9" class="tl">1.8</text>
<text x="95.6" y="193.6" text-anchor="end" class="tl">2.0</text>
<text x="1063" y="193.6" class="tl">2.0</text>
<text x="95.6" y="132.3" text-anchor="end" class="tl">2.2</text>
<text x="1063" y="132.3" class="tl">2.2</text>
<text x="95.6" y="71.0" text-anchor="end" class="tl">2.4</text>
<text x="1063" y="71.0" class="tl">2.4</text>
<text x="113.8" y="592.5" text-anchor="middle" class="tl">0</text>
<text x="251.9" y="592.5" text-anchor="middle" class="tl">2</text>
<text x="390.1" y="592.5" text-anchor="middle" class="tl">4</text>
<text x="528.4" y="592.5" text-anchor="middle" class="tl">6</text>
<text x="666.5" y="592.5" text-anchor="middle" class="tl">8</text>
<text x="804.8" y="592.5" text-anchor="middle" class="tl">10</text>
<text x="942.9" y="592.5" text-anchor="middle" class="tl">12</text>
<rect x="302.2" y="722.7" width="592.9" height="477.4" fill="none" stroke="#444444" stroke-width="2.6"/>
<path d="M292.2 1200.1H302.2M297.2 1170.3H302.2M292.2 1140.4H302.2M297.2 1110.6H302.2M292.2 1080.7H302.2M297.2 1050.9H302.2M292.2 1021.1H302.2M297.2 991.2H302.2M292.2 961.4H302.2M297.2 931.6H302.2M292.2 901.7H302.2M297.2 871.9H302.2M292.2 842.0H302.2M297.2 812.2H302.2M292.2 782.4H302.2M297.2 752.5H302.2M292.2 722.7H302.2M302.2 1200.1V1210.1M376.3 1200.1V1205.1M450.4 1200.1V1210.1M524.5 1200.1V1205.1M598.7 1200.1V1210.1M672.8 1200.1V1205.1M746.9 1200.1V1210.1M821.0 1200.1V1205.1M895.1 1200.1V1210.1" stroke="#444444" stroke-width="2.6" fill="none"/>
<path d="M302.2 1053.0L302.8 1052.6L303.4 1052.2L304.0 1051.8L304.6 1051.4L305.2 1051.0L305.8 1050.6L306.4 1050.1L306.9 1049.7L307.5 1049.2L308.1 1048.7L308.7 1048.1L309.3 1047.5L309.9 1046.8L310.5 1046.1L311.1 1045.2L311.7 1044.4L312.3 1043.4L312.9 1042.4L313.5 1041.4L314.1 1040.3L314.7 1039.2L315.2 1038.0L315.8 1036.8L316.4 1035.6L317.0 1034.4L317.6 1033.0L318.3 1031.7L318.9 1030.3L319.5 1028.8L320.1 1027.3L320.7 1025.8L321.3 1024.3L321.9 1022.7L322.5 1021.0L323.2 1019.4L323.8 1017.7L324.4 1015.9L325.0 1014.1L325.6 1012.3L326.2 1010.5L326.8 1008.6L327.4 1006.8L328.0 1004.9L328.6 1003.0L329.2 1001.1L329.8 999.2L330.4 997.3L331.0 995.5L331.5 993.6L332.1 991.8L333.3 988.2L334.6 984.7L335.8 981.3L337.0 978.0L338.2 974.7L339.4 971.6L340.7 968.6L341.9 965.7L343.1 962.8L344.3 960.1L345.5 957.4L346.7 954.9L347.9 952.4L349.0 949.9L350.2 947.5L351.4 945.2L352.6 942.9L353.8 940.6L355.0 938.4L356.2 936.1L357.4 933.9L358.6 931.7L359.9 929.5L361.1 927.2L362.3 925.0L363.5 922.8L364.7 920.5L366.0 918.1L367.2 915.7L368.4 913.3L369.6 910.9L370.8 908.5L372.1 906.1L373.3 903.8L374.5 901.5L375.7 899.3L377.0 897.2L378.2 895.2L379.4 893.3L380.6 891.5L381.8 889.8L383.0 888.3L384.3 886.8L385.5 885.5L386.7 884.3L387.9 883.2L389.1 882.2L390.3 881.3L391.5 880.5L392.7 879.7L393.9 878.9L395.1 878.2L396.3 877.5L397.6 876.9L398.8 876.2L400.0 875.6L401.2 875.0L402.4 874.3L403.6 873.7L404.8 873.1L406.0 872.5L407.1 872.0L408.3 871.4L409.5 870.8L410.7 870.3L411.9 869.7L413.1 869.1L414.3 868.5L415.4 868.0L416.6 867.3L417.8 866.7L419.0 866.1L420.2 865.4L421.4 864.7L422.6 864.0L423.8 863.2L425.1 862.4L426.3 861.5L427.5 860.6L428.7 859.7L429.9 858.8L431.2 857.8L432.4 856.8L433.6 855.7L434.9 854.7L436.1 853.6L437.4 852.6L438.6 851.5L439.8 850.5L441.1 849.5L442.3 848.6L443.6 847.7L444.8 846.8L446.0 846.1L447.2 845.4L448.3 844.7L449.5 844.1L450.7 843.5L451.9 842.9L453.1 842.4L454.3 841.9L455.5 841.4L456.7 840.9L457.8 840.5L459.0 840.1L460.2 839.7L461.4 839.4L462.6 839.0L463.8 838.7L465.0 838.4L466.2 838.2L467.4 837.9L468.6 837.7L469.8 837.4L471.0 837.2L472.2 837.0L473.4 836.8L474.6 836.6L475.8 836.4L477.1 836.2L478.3 836.0L479.5 835.9L480.7 835.7L481.9 835.5L483.0 835.3L484.2 835.1L485.4 834.9L486.6 834.8L487.8 834.6L489.0 834.4L490.2 834.2L491.4 834.0L492.6 833.9L493.8 833.7L495.0 833.5L496.1 833.3L497.3 833.1L498.5 832.9L499.7 832.8L500.9 832.6L502.1 832.4L503.3 832.2L504.5 832.0L505.7 831.9L506.9 831.7L508.0 831.5L509.2 831.3L510.4 831.1L511.6 831.0L512.8 830.8L514.0 830.6L515.2 830.4L516.4 830.3L517.6 830.1L518.8 829.9L519.9 829.7L521.1 829.5L522.3 829.4L523.5 829.2L524.7 829.0L525.9 828.8L527.1 828.7L528.3 828.5L529.5 828.3L530.7 828.1L531.9 828.0L533.0 827.8L534.2 827.6L535.4 827.5L536.6 827.3L537.8 827.1L539.0 826.9L540.2 826.8L541.4 826.6L542.6 826.4L543.8 826.2L544.9 826.1L546.1 825.9L547.3 825.7L548.5 825.6L549.7 825.4L550.9 825.2L552.1 825.0L553.3 824.9L554.5 824.7L555.7 824.5L556.9 824.4L558.0 824.2L559.2 824.0L560.4 823.9L561.6 823.7L562.8 823.5L564.0 823.3L565.2 823.2L566.4 823.0L567.6 822.8L568.8 822.7L569.9 822.5L571.1 822.3L572.3 822.2L573.5 822.0L574.7 821.8L575.9 821.7L577.1 821.5L578.3 821.3L579.5 821.2L580.7 821.0L581.9 820.8L583.0 820.7L584.2 820.5L585.4 820.3L586.6 820.2L587.8 820.0L589.0 819.9L590.2 819.7L591.4 819.5L592.6 819.4L593.8 819.2L594.9 819.0L596.1 818.9L597.3 818.7L598.5 818.5L599.7 818.4L600.9 818.2L602.1 818.1L603.3 817.9L604.5 817.7L605.7 817.6L606.9 817.4L608.0 817.3L609.2 817.1L610.4 816.9L611.6 816.8L612.8 816.6L614.0 816.5L615.2 816.3L616.4 816.1L617.6 816.0L618.8 815.8L619.9 815.7L621.1 815.5L622.3 815.3L623.5 815.2L624.7 815.0L625.9 814.9L627.1 814.7L628.3 814.6L629.5 814.4L630.7 814.2L631.9 814.1L633.0 813.9L634.2 813.8L635.4 813.6L636.6 813.5L637.8 813.3L639.0 813.2L640.2 813.0L641.4 812.8L642.6 812.7L643.8 812.5L644.9 812.4L646.1 812.2L647.3 812.1L648.5 811.9L649.7 811.8L650.9 811.6L652.1 811.5L653.3 811.3L654.5 811.2L655.7 811.0L656.8 810.9L658.0 810.7L659.2 810.6L660.4 810.4L661.6 810.3L662.8 810.1L664.0 810.0L665.2 809.8L666.4 809.7L667.6 809.5L668.8 809.4L669.9 809.3L671.1 809.1L672.3 809.0L673.5 808.8L674.7 808.7L675.9 808.5L677.1 808.4L678.3 808.2L679.5 808.1L680.7 807.9L681.8 807.8L683.0 807.6L684.2 807.5L685.4 807.3L686.6 807.2L687.8 807.0L689.0 806.9L690.2 806.7L691.4 806.6L692.6 806.5L693.8 806.3L694.9 806.2L696.1 806.0L697.3 805.9L698.5 805.7L699.7 805.6L700.9 805.4L702.1 805.3L703.3 805.1L704.5 805.0L705.7 804.8L706.8 804.7L708.0 804.5L709.2 804.4L710.4 804.2L711.6 804.1L712.8 803.9L714.0 803.8L715.2 803.6L716.4 803.5L717.6 803.3L718.8 803.2L719.9 803.0L721.1 802.9L722.3 802.7L723.5 802.5L724.7 802.4L725.9 802.2L727.1 802.1L728.3 801.9L729.5 801.8L730.7 801.6L731.8 801.5L733.0 801.3L734.2 801.1L735.4 801.0L736.6 800.8L737.8 800.7L739.0 800.5L740.2 800.4L741.4 800.2L742.6 800.0L743.8 799.9L744.9 799.7L746.1 799.6L747.3 799.4L748.5 799.3L749.7 799.1L750.9 799.0L752.1 798.8L753.3 798.7L754.5 798.5L755.7 798.4L756.8 798.2L758.0 798.1L759.2 797.9L760.4 797.8L761.6 797.6L762.8 797.5L764.0 797.3L765.2 797.2L766.4 797.0L767.6 796.9L768.7 796.7L769.9 796.6L771.1 796.5L772.3 796.3L773.5 796.2L774.7 796.0L775.9 795.9L777.1 795.8L778.3 795.6L779.5 795.5L780.7 795.4L781.8 795.2L783.0 795.1L784.2 795.0L785.4 794.9L786.6 794.7L787.8 794.6L789.0 794.5L790.2 794.4L791.4 794.2L792.6 794.1L793.8 794.0L795.0 793.9L796.1 793.7L797.3 793.6L798.5 793.5L799.7 793.4L800.9 793.3L802.1 793.2L803.3 793.0L804.5 792.9L805.7 792.8L806.9 792.7L808.1 792.6L809.3 792.5L810.5 792.3L811.6 792.2L812.8 792.1L814.0 792.0L815.2 791.9L816.4 791.8L817.6 791.7L818.8 791.6L820.0 791.4L821.2 791.3L822.4 791.2L823.6 791.1L824.8 791.0L826.0 790.9L827.1 790.8L828.3 790.7L829.5 790.6L830.7 790.5L831.9 790.4L833.1 790.3L834.3 790.1L835.5 790.0L836.7 789.9L837.9 789.8L839.1 789.7L840.3 789.6L841.5 789.5L842.6 789.4L843.8 789.3L845.0 789.2L846.2 789.1L847.4 789.0L848.6 788.9L849.8 788.8L851.0 788.7L852.2 788.6L853.4 788.5L854.6 788.4L855.8 788.3L856.9 788.1L858.1 788.0L859.3 787.9L860.5 787.8L861.7 787.7L862.9 787.6L864.1 787.5L865.3 787.4L866.5 787.3L867.7 787.2L868.9 787.1L870.1 787.0L871.3 786.9L872.4 786.8L873.6 786.7L874.8 786.6L876.0 786.5L877.2 786.4L878.4 786.3L879.6 786.2L880.8 786.1L882.0 785.9L883.2 785.8L884.4 785.7L885.6 785.6L886.8 785.5L887.9 785.4L889.1 785.3L890.3 785.2L891.5 785.1L892.7 785.0L893.9 784.9L895.1 784.8" fill="none" stroke="#111" stroke-width="3.0" stroke-linejoin="round"/>
<path d="M302.2 1053.0L302.8 1053.9L303.4 1054.7L304.0 1055.6L304.7 1056.5L305.3 1057.3L305.9 1058.2L306.5 1059.1L307.1 1059.9L307.7 1060.8L308.3 1061.7L309.0 1062.6L309.6 1063.5L310.2 1064.4L310.8 1065.3L311.4 1066.3L312.0 1067.3L312.7 1068.3L313.3 1069.3L313.9 1070.3L314.6 1071.2L315.2 1072.1L315.8 1072.9L316.4 1073.6L317.0 1074.2L317.6 1074.8L318.2 1075.3L318.8 1075.9L319.4 1076.3L320.0 1076.8L320.6 1077.2L321.2 1077.7L321.8 1078.1L322.4 1078.5L323.0 1078.8L323.5 1079.2L324.1 1079.6L324.7 1079.9L325.3 1080.3L325.9 1080.6L326.5 1081.0L327.1 1081.3L327.7 1081.6L328.3 1082.0L328.9 1082.3L329.6 1082.6L330.2 1083.0L330.8 1083.3L331.4 1083.6L332.6 1084.2L333.9 1084.8L335.1 1085.4L336.3 1086.0L337.6 1086.5L338.8 1087.0L340.0 1087.6L341.2 1088.1L342.5 1088.6L343.7 1089.1L344.9 1089.5L346.1 1090.0L347.3 1090.4L348.5 1090.9L349.7 1091.3L350.9 1091.7L352.1 1092.1L353.3 1092.5L354.5 1092.9L355.7 1093.3L356.9 1093.7L358.1 1094.1L359.3 1094.5L360.5 1094.8L361.7 1095.2L362.9 1095.5L364.1 1095.9L365.3 1096.2L366.5 1096.6L367.7 1096.9L369.0 1097.2L370.2 1097.6L371.4 1097.9L372.6 1098.2L373.8 1098.5L375.0 1098.8L376.2 1099.1L377.4 1099.4L378.6 1099.7L379.8 1100.0L381.0 1100.3L382.2 1100.6L383.4 1100.8L384.6 1101.1L385.8 1101.3L387.0 1101.6L388.2 1101.9L389.4 1102.1L390.6 1102.3L391.8 1102.6L393.0 1102.8L394.2 1103.0L395.4 1103.3L396.6 1103.5L397.8 1103.7L399.0 1103.9L400.1 1104.1L401.3 1104.3L402.5 1104.5L403.7 1104.8L404.9 1105.0L406.1 1105.2L407.3 1105.4L408.5 1105.6L409.7 1105.8L410.9 1106.0L412.1 1106.2L413.3 1106.4L414.5 1106.6L415.7 1106.9L416.9 1107.1L418.1 1107.3L419.3 1107.5L420.5 1107.7L421.7 1108.0L422.9 1108.2L424.1 1108.4L425.3 1108.6L426.5 1108.9L427.7 1109.1L428.9 1109.3L430.1 1109.6L431.3 1109.8L432.5 1110.0L433.7 1110.3L434.9 1110.5L436.1 1110.7L437.3 1111.0L438.5 1111.2L439.7 1111.4L440.9 1111.7L442.1 1111.9L443.3 1112.1L444.5 1112.3L445.7 1112.5L446.9 1112.8L448.1 1113.0L449.3 1113.2L450.5 1113.4L451.7 1113.6L452.9 1113.8L454.1 1114.0L455.3 1114.2L456.5 1114.5L457.7 1114.7L458.9 1114.9L460.2 1115.1L461.4 1115.3L462.6 1115.5L463.8 1115.7L465.0 1115.9L466.2 1116.1L467.4 1116.3L468.6 1116.5L469.8 1116.7L471.0 1116.9L472.2 1117.1L473.4 1117.3L474.6 1117.5L475.8 1117.7L477.1 1117.9L478.3 1118.0L479.5 1118.2L480.7 1118.4L481.9 1118.6L483.0 1118.8L484.2 1119.0L485.4 1119.2L486.6 1119.4L487.8 1119.6L489.0 1119.8L490.2 1120.0L491.4 1120.2L492.6 1120.4L493.8 1120.6L495.0 1120.8L496.1 1121.0L497.3 1121.2L498.5 1121.4L499.7 1121.6L500.9 1121.8L502.1 1121.9L503.3 1122.1L504.5 1122.3L505.7 1122.5L506.9 1122.7L508.0 1122.9L509.2 1123.1L510.4 1123.3L511.6 1123.5L512.8 1123.7L514.0 1123.9L515.2 1124.1L516.4 1124.3L517.6 1124.5L518.8 1124.6L519.9 1124.8L521.1 1125.0L522.3 1125.2L523.5 1125.4L524.7 1125.6L525.9 1125.8L527.1 1126.0L528.3 1126.2L529.5 1126.4L530.7 1126.6L531.9 1126.7L533.0 1126.9L534.2 1127.1L535.4 1127.3L536.6 1127.5L537.8 1127.7L539.0 1127.9L540.2 1128.1L541.4 1128.3L542.6 1128.4L543.8 1128.6L544.9 1128.8L546.1 1129.0L547.3 1129.2L548.5 1129.4L549.7 1129.6L550.9 1129.7L552.1 1129.9L553.3 1130.1L554.5 1130.3L555.7 1130.5L556.9 1130.7L558.0 1130.9L559.2 1131.0L560.4 1131.2L561.6 1131.4L562.8 1131.6L564.0 1131.8L565.2 1131.9L566.4 1132.1L567.6 1132.3L568.8 1132.5L569.9 1132.7L571.1 1132.9L572.3 1133.0L573.5 1133.2L574.7 1133.4L575.9 1133.6L577.1 1133.8L578.3 1133.9L579.5 1134.1L580.7 1134.3L581.9 1134.5L583.0 1134.7L584.2 1134.8L585.4 1135.0L586.6 1135.2L587.8 1135.4L589.0 1135.5L590.2 1135.7L591.4 1135.9L592.6 1136.1L593.8 1136.2L594.9 1136.4L596.1 1136.6L597.3 1136.8L598.5 1137.0L599.7 1137.1L600.9 1137.3L602.1 1137.5L603.3 1137.7L604.5 1137.8L605.7 1138.0L606.9 1138.2L608.0 1138.4L609.2 1138.5L610.4 1138.7L611.6 1138.9L612.8 1139.1L614.0 1139.2L615.2 1139.4L616.4 1139.6L617.6 1139.8L618.8 1139.9L619.9 1140.1L621.1 1140.3L622.3 1140.4L623.5 1140.6L624.7 1140.8L625.9 1141.0L627.1 1141.1L628.3 1141.3L629.5 1141.5L630.7 1141.7L631.9 1141.8L633.0 1142.0L634.2 1142.2L635.4 1142.3L636.6 1142.5L637.8 1142.7L639.0 1142.9L640.2 1143.0L641.4 1143.2L642.6 1143.4L643.8 1143.6L644.9 1143.7L646.1 1143.9L647.3 1144.1L648.5 1144.2L649.7 1144.4L650.9 1144.6L652.1 1144.8L653.3 1144.9L654.5 1145.1L655.7 1145.3L656.8 1145.4L658.0 1145.6L659.2 1145.8L660.4 1146.0L661.6 1146.1L662.8 1146.3L664.0 1146.5L665.2 1146.6L666.4 1146.8L667.6 1147.0L668.8 1147.1L669.9 1147.3L671.1 1147.5L672.3 1147.7L673.5 1147.8L674.7 1148.0L675.9 1148.2L677.1 1148.3L678.3 1148.5L679.5 1148.7L680.7 1148.8L681.8 1149.0L683.0 1149.2L684.2 1149.3L685.4 1149.5L686.6 1149.7L687.8 1149.8L689.0 1150.0L690.2 1150.2L691.4 1150.3L692.6 1150.5L693.8 1150.6L694.9 1150.8L696.1 1151.0L697.3 1151.1L698.5 1151.3L699.7 1151.5L700.9 1151.6L702.1 1151.8L703.3 1151.9L704.5 1152.1L705.7 1152.3L706.8 1152.4L708.0 1152.6L709.2 1152.7L710.4 1152.9L711.6 1153.0L712.8 1153.2L714.0 1153.4L715.2 1153.5L716.4 1153.7L717.6 1153.8L718.8 1154.0L719.9 1154.1L721.1 1154.3L722.3 1154.4L723.5 1154.6L724.7 1154.8L725.9 1154.9L727.1 1155.1L728.3 1155.2L729.5 1155.4L730.7 1155.5L731.8 1155.7L733.0 1155.8L734.2 1156.0L735.4 1156.1L736.6 1156.3L737.8 1156.4L739.0 1156.6L740.2 1156.7L741.4 1156.9L742.6 1157.0L743.8 1157.2L744.9 1157.3L746.1 1157.5L747.3 1157.6L748.5 1157.8L749.7 1157.9L750.9 1158.1L752.1 1158.2L753.3 1158.4L754.5 1158.5L755.7 1158.7L756.8 1158.8L758.0 1158.9L759.2 1159.1L760.4 1159.2L761.6 1159.4L762.8 1159.5L764.0 1159.7L765.2 1159.8L766.4 1160.0L767.6 1160.1L768.7 1160.3L769.9 1160.4L771.1 1160.5L772.3 1160.7L773.5 1160.8L774.7 1161.0L775.9 1161.1L777.1 1161.3L778.3 1161.4L779.5 1161.6L780.7 1161.7L781.8 1161.8L783.0 1162.0L784.2 1162.1L785.4 1162.3L786.6 1162.4L787.8 1162.6L789.0 1162.7L790.2 1162.8L791.4 1163.0L792.6 1163.1L793.8 1163.3L795.0 1163.4L796.1 1163.6L797.3 1163.7L798.5 1163.8L799.7 1164.0L800.9 1164.1L802.1 1164.3L803.3 1164.4L804.5 1164.6L805.7 1164.7L806.9 1164.8L808.1 1165.0L809.3 1165.1L810.5 1165.3L811.6 1165.4L812.8 1165.5L814.0 1165.7L815.2 1165.8L816.4 1165.9L817.6 1166.1L818.8 1166.2L820.0 1166.4L821.2 1166.5L822.4 1166.6L823.6 1166.8L824.8 1166.9L826.0 1167.1L827.1 1167.2L828.3 1167.3L829.5 1167.5L830.7 1167.6L831.9 1167.8L833.1 1167.9L834.3 1168.0L835.5 1168.2L836.7 1168.3L837.9 1168.4L839.1 1168.6L840.3 1168.7L841.5 1168.9L842.6 1169.0L843.8 1169.1L845.0 1169.3L846.2 1169.4L847.4 1169.5L848.6 1169.7L849.8 1169.8L851.0 1169.9L852.2 1170.1L853.4 1170.2L854.6 1170.4L855.8 1170.5L856.9 1170.6L858.1 1170.8L859.3 1170.9L860.5 1171.0L861.7 1171.2L862.9 1171.3L864.1 1171.5L865.3 1171.6L866.5 1171.7L867.7 1171.9L868.9 1172.0L870.1 1172.1L871.3 1172.3L872.4 1172.4L873.6 1172.6L874.8 1172.7L876.0 1172.8L877.2 1173.0L878.4 1173.1L879.6 1173.2L880.8 1173.4L882.0 1173.5L883.2 1173.7L884.4 1173.8L885.6 1173.9L886.8 1174.1L887.9 1174.2L889.1 1174.3L890.3 1174.5L891.5 1174.6L892.7 1174.8L893.9 1174.9L895.1 1175.0" fill="none" stroke="#111" stroke-width="3.0" stroke-linejoin="round"/>
<path d="M302.2 1002.3L302.8 1002.0L303.4 1001.8L304.0 1001.6L304.6 1001.4L305.2 1001.1L305.8 1000.9L306.4 1000.7L307.0 1000.5L307.6 1000.3L308.2 1000.0L308.8 999.8L309.4 999.6L310.0 999.4L310.6 999.2L311.2 999.0L311.8 998.8L312.4 998.5L313.0 998.3L313.6 998.1L314.2 997.9L314.8 997.7L315.4 997.5L316.0 997.3L316.6 997.0L317.2 996.8L317.8 996.6L318.4 996.4L319.0 996.2L319.6 995.9L320.2 995.7L320.8 995.5L321.4 995.3L322.0 995.0L322.6 994.8L323.2 994.6L323.8 994.3L324.4 994.1L325.0 993.8L325.5 993.6L326.1 993.3L326.7 993.1L327.3 992.8L327.9 992.5L328.5 992.3L329.1 992.0L329.7 991.7L330.3 991.4L330.9 991.2L331.5 990.9L332.1 990.6L333.3 989.9L334.5 989.3L335.8 988.6L337.0 987.9L338.2 987.2L339.4 986.5L340.6 985.7L341.8 984.9L343.0 984.1L344.2 983.3L345.4 982.5L346.6 981.6L347.8 980.8L349.0 979.9L350.2 979.0L351.5 978.1L352.7 977.2L353.9 976.3L355.1 975.4L356.3 974.5L357.5 973.5L358.7 972.6L359.9 971.7L361.1 970.8L362.3 969.9L363.5 969.0L364.7 968.1L365.9 967.2L367.1 966.4L368.3 965.5L369.6 964.6L370.8 963.7L372.0 962.8L373.2 962.0L374.4 961.1L375.6 960.2L376.8 959.3L378.0 958.4L379.2 957.4L380.4 956.5L381.6 955.6L382.8 954.6L384.0 953.6L385.2 952.7L386.4 951.7L387.6 950.7L388.8 949.7L389.9 948.6L391.1 947.6L392.3 946.6L393.5 945.5L394.7 944.4L395.9 943.3L397.1 942.2L398.2 941.1L399.4 940.0L400.6 938.9L401.8 937.7L403.0 936.6L404.2 935.4L405.4 934.2L406.6 933.0L407.7 931.8L408.9 930.5L410.2 929.2L411.4 927.8L412.7 926.4L413.9 925.0L415.2 923.6L416.4 922.1L417.7 920.6L418.9 919.1L420.2 917.5L421.4 915.9L422.6 914.3L423.9 912.6L425.1 911.0L426.4 909.3L427.6 907.5L428.8 905.8L430.1 904.0L431.3 902.2L432.6 900.3L433.8 898.5L435.0 896.6L436.2 894.8L437.5 892.9L438.7 891.1L439.9 889.2L441.1 887.4L442.3 885.7L443.5 884.0L444.7 882.3L446.0 880.8L447.2 879.3L448.3 878.0L449.5 876.6L450.7 875.4L451.9 874.2L453.1 873.0L454.3 871.9L455.5 870.8L456.7 869.7L457.8 868.6L459.0 867.6L460.2 866.4L461.4 865.3L462.6 864.2L463.8 863.0L465.0 861.8L466.2 860.6L467.4 859.4L468.6 858.1L469.8 856.9L471.0 855.7L472.2 854.5L473.5 853.4L474.7 852.3L475.9 851.3L477.1 850.3L478.3 849.4L479.5 848.6L480.7 847.8L481.9 847.0L483.1 846.3L484.3 845.7L485.5 845.1L486.7 844.6L488.0 844.1L489.2 843.6L490.4 843.2L491.6 842.8L492.8 842.4L494.0 842.1L495.2 841.8L496.4 841.6L497.6 841.3L498.7 841.1L499.9 840.9L501.1 840.7L502.3 840.6L503.5 840.4L504.7 840.2L505.9 840.1L507.0 840.0L508.2 839.8L509.4 839.7L510.6 839.6L511.8 839.4L513.0 839.3L514.2 839.2L515.3 839.1L516.5 839.0L517.7 838.9L518.9 838.8L520.1 838.7L521.3 838.6L522.5 838.5L523.6 838.4L524.8 838.3L526.0 838.2L527.2 838.1L528.4 838.0L529.6 837.9L530.8 837.8L531.9 837.7L533.1 837.6L534.3 837.6L535.5 837.5L536.7 837.4L537.9 837.3L539.1 837.2L540.2 837.1L541.4 837.0L542.6 836.9L543.8 836.8L545.0 836.7L546.2 836.6L547.4 836.5L548.5 836.4L549.7 836.3L550.9 836.2L552.1 836.1L553.3 836.0L554.5 835.9L555.7 835.8L556.9 835.7L558.0 835.6L559.2 835.5L560.4 835.4L561.6 835.2L562.8 835.1L564.0 835.0L565.2 834.9L566.4 834.8L567.6 834.6L568.8 834.5L569.9 834.4L571.1 834.3L572.3 834.1L573.5 834.0L574.7 833.9L575.9 833.8L577.1 833.6L578.3 833.5L579.5 833.4L580.7 833.3L581.9 833.1L583.0 833.0L584.2 832.9L585.4 832.8L586.6 832.6L587.8 832.5L589.0 832.4L590.2 832.2L591.4 832.1L592.6 832.0L593.8 831.9L594.9 831.7L596.1 831.6L597.3 831.5L598.5 831.4L599.7 831.2L600.9 831.1L602.1 831.0L603.3 830.9L604.5 830.7L605.7 830.6L606.9 830.5L608.0 830.4L609.2 830.2L610.4 830.1L611.6 830.0L612.8 829.9L614.0 829.8L615.2 829.6L616.4 829.5L617.6 829.4L618.8 829.3L619.9 829.2L621.1 829.1L622.3 829.0L623.5 828.8L624.7 828.7L625.9 828.6L627.1 828.5L628.3 828.4L629.5 828.3L630.7 828.2L631.9 828.1L633.0 828.0L634.2 827.9L635.4 827.8L636.6 827.7L637.8 827.6L639.0 827.5L640.2 827.4L641.4 827.3L642.6 827.2L643.8 827.1L644.9 827.0L646.1 826.9L647.3 826.8L648.5 826.7L649.7 826.6L650.9 826.5L652.1 826.4L653.3 826.4L654.5 826.3L655.7 826.2L656.8 826.1L658.0 826.0L659.2 825.9L660.4 825.8L661.6 825.7L662.8 825.6L664.0 825.6L665.2 825.5L666.4 825.4L667.6 825.3L668.8 825.2L669.9 825.1L671.1 825.0L672.3 825.0L673.5 824.9L674.7 824.8L675.9 824.7L677.1 824.6L678.3 824.5L679.5 824.4L680.7 824.4L681.8 824.3L683.0 824.2L684.2 824.1L685.4 824.0L686.6 823.9L687.8 823.9L689.0 823.8L690.2 823.7L691.4 823.6L692.6 823.5L693.8 823.4L694.9 823.3L696.1 823.3L697.3 823.2L698.5 823.1L699.7 823.0L700.9 822.9L702.1 822.8L703.3 822.7L704.5 822.7L705.7 822.6L706.8 822.5L708.0 822.4L709.2 822.3L710.4 822.2L711.6 822.1L712.8 822.0L714.0 822.0L715.2 821.9L716.4 821.8L717.6 821.7L718.8 821.6L719.9 821.5L721.1 821.4L722.3 821.3L723.5 821.2L724.7 821.2L725.9 821.1L727.1 821.0L728.3 820.9L729.5 820.8L730.7 820.7L731.8 820.6L733.0 820.5L734.2 820.4L735.4 820.3L736.6 820.3L737.8 820.2L739.0 820.1L740.2 820.0L741.4 819.9L742.6 819.8L743.8 819.7L744.9 819.6L746.1 819.5L747.3 819.4L748.5 819.4L749.7 819.3L750.9 819.2L752.1 819.1L753.3 819.0L754.5 818.9L755.7 818.8L756.8 818.7L758.0 818.6L759.2 818.6L760.4 818.5L761.6 818.4L762.8 818.3L764.0 818.2L765.2 818.1L766.4 818.0L767.6 817.9L768.7 817.9L769.9 817.8L771.1 817.7L772.3 817.6L773.5 817.5L774.7 817.4L775.9 817.3L777.1 817.2L778.3 817.2L779.5 817.1L780.7 817.0L781.8 816.9L783.0 816.8L784.2 816.7L785.4 816.6L786.6 816.6L787.8 816.5L789.0 816.4L790.2 816.3L791.4 816.2L792.6 816.1L793.8 816.1L795.0 816.0L796.1 815.9L797.3 815.8L798.5 815.7L799.7 815.6L800.9 815.6L802.1 815.5L803.3 815.4L804.5 815.3L805.7 815.2L806.9 815.2L808.1 815.1L809.3 815.0L810.5 814.9L811.6 814.8L812.8 814.7L814.0 814.7L815.2 814.6L816.4 814.5L817.6 814.4L818.8 814.3L820.0 814.3L821.2 814.2L822.4 814.1L823.6 814.0L824.8 813.9L826.0 813.9L827.1 813.8L828.3 813.7L829.5 813.6L830.7 813.5L831.9 813.5L833.1 813.4L834.3 813.3L835.5 813.2L836.7 813.1L837.9 813.1L839.1 813.0L840.3 812.9L841.5 812.8L842.6 812.7L843.8 812.7L845.0 812.6L846.2 812.5L847.4 812.4L848.6 812.3L849.8 812.3L851.0 812.2L852.2 812.1L853.4 812.0L854.6 811.9L855.8 811.9L856.9 811.8L858.1 811.7L859.3 811.6L860.5 811.5L861.7 811.5L862.9 811.4L864.1 811.3L865.3 811.2L866.5 811.1L867.7 811.1L868.9 811.0L870.1 810.9L871.3 810.8L872.4 810.7L873.6 810.7L874.8 810.6L876.0 810.5L877.2 810.4L878.4 810.4L879.6 810.3L880.8 810.2L882.0 810.1L883.2 810.0L884.4 810.0L885.6 809.9L886.8 809.8L887.9 809.7L889.1 809.6L890.3 809.6L891.5 809.5L892.7 809.4L893.9 809.3L895.1 809.2" fill="none" stroke="#dc2f36" stroke-width="2.6" stroke-linejoin="round"/>
<path d="M302.2 1002.6L302.8 1002.9L303.4 1003.1L304.0 1003.4L304.7 1003.7L305.3 1003.9L305.9 1004.2L306.5 1004.5L307.1 1004.8L307.7 1005.0L308.3 1005.3L309.0 1005.6L309.6 1005.9L310.2 1006.2L310.8 1006.5L311.4 1006.7L312.0 1007.0L312.6 1007.3L313.2 1007.6L313.8 1007.9L314.5 1008.2L315.1 1008.5L315.7 1008.8L316.3 1009.1L316.9 1009.4L317.5 1009.7L318.1 1010.0L318.7 1010.3L319.3 1010.6L319.9 1010.9L320.5 1011.2L321.2 1011.5L321.8 1011.9L322.4 1012.2L323.0 1012.5L323.6 1012.9L324.2 1013.2L324.8 1013.6L325.4 1014.0L326.0 1014.3L326.6 1014.7L327.3 1015.0L327.9 1015.4L328.5 1015.8L329.1 1016.2L329.7 1016.5L330.3 1016.9L330.9 1017.3L331.5 1017.6L332.7 1018.4L334.0 1019.1L335.2 1019.8L336.4 1020.5L337.6 1021.2L338.8 1022.0L340.0 1022.7L341.3 1023.5L342.5 1024.3L343.7 1025.1L344.9 1026.0L346.1 1026.8L347.3 1027.7L348.4 1028.7L349.6 1029.6L350.8 1030.6L352.0 1031.6L353.2 1032.6L354.4 1033.7L355.6 1034.7L356.8 1035.8L358.0 1036.9L359.3 1038.0L360.5 1039.1L361.7 1040.2L362.9 1041.3L364.1 1042.3L365.3 1043.4L366.6 1044.4L367.8 1045.4L369.0 1046.4L370.2 1047.4L371.4 1048.4L372.7 1049.3L373.9 1050.2L375.1 1051.1L376.3 1051.9L377.6 1052.7L378.8 1053.5L380.1 1054.3L381.3 1055.0L382.6 1055.7L383.8 1056.4L385.1 1057.0L386.4 1057.6L387.6 1058.2L388.8 1058.8L390.0 1059.3L391.3 1059.9L392.5 1060.4L393.7 1060.9L394.9 1061.3L396.1 1061.8L397.3 1062.2L398.6 1062.7L399.8 1063.1L401.0 1063.5L402.2 1063.9L403.4 1064.2L404.7 1064.6L405.9 1064.9L407.1 1065.2L408.3 1065.6L409.5 1065.8L410.8 1066.1L412.0 1066.4L413.2 1066.6L414.4 1066.9L415.6 1067.1L416.8 1067.4L418.1 1067.6L419.3 1067.9L420.5 1068.1L421.8 1068.4L423.0 1068.7L424.3 1068.9L425.5 1069.2L426.8 1069.5L428.0 1069.7L429.3 1070.0L430.5 1070.3L431.7 1070.5L433.0 1070.8L434.2 1071.0L435.4 1071.3L436.6 1071.5L437.8 1071.7L439.0 1072.0L440.2 1072.2L441.4 1072.4L442.6 1072.6L443.9 1072.8L445.1 1073.1L446.3 1073.3L447.5 1073.5L448.7 1073.7L449.9 1073.9L451.1 1074.1L452.3 1074.3L453.5 1074.5L454.7 1074.7L456.0 1074.9L457.2 1075.1L458.4 1075.3L459.6 1075.5L460.8 1075.6L462.0 1075.8L463.2 1076.0L464.4 1076.2L465.6 1076.4L466.8 1076.5L468.0 1076.7L469.2 1076.9L470.4 1077.0L471.6 1077.2L472.8 1077.4L474.0 1077.5L475.3 1077.7L476.5 1077.9L477.7 1078.0L478.9 1078.2L480.1 1078.4L481.3 1078.5L482.5 1078.7L483.6 1078.8L484.8 1079.0L486.0 1079.2L487.2 1079.3L488.4 1079.5L489.6 1079.6L490.8 1079.8L492.0 1080.0L493.2 1080.1L494.4 1080.3L495.5 1080.4L496.7 1080.6L497.9 1080.8L499.1 1080.9L500.3 1081.1L501.5 1081.2L502.7 1081.4L503.9 1081.5L505.1 1081.7L506.3 1081.9L507.4 1082.0L508.6 1082.2L509.8 1082.3L511.0 1082.5L512.2 1082.6L513.4 1082.8L514.6 1083.0L515.8 1083.1L517.0 1083.3L518.2 1083.4L519.4 1083.6L520.5 1083.7L521.7 1083.9L522.9 1084.1L524.1 1084.2L525.3 1084.4L526.5 1084.5L527.7 1084.7L528.9 1084.8L530.1 1085.0L531.3 1085.2L532.4 1085.3L533.6 1085.5L534.8 1085.6L536.0 1085.8L537.2 1085.9L538.4 1086.1L539.6 1086.3L540.8 1086.4L542.0 1086.6L543.2 1086.7L544.4 1086.9L545.5 1087.1L546.7 1087.2L547.9 1087.4L549.1 1087.5L550.3 1087.7L551.5 1087.9L552.7 1088.0L553.9 1088.2L555.1 1088.3L556.3 1088.5L557.4 1088.7L558.6 1088.8L559.8 1089.0L561.0 1089.2L562.2 1089.3L563.4 1089.5L564.6 1089.7L565.8 1089.8L567.0 1090.0L568.2 1090.2L569.4 1090.3L570.5 1090.5L571.7 1090.7L572.9 1090.8L574.1 1091.0L575.3 1091.2L576.5 1091.3L577.7 1091.5L578.9 1091.7L580.1 1091.8L581.3 1092.0L582.4 1092.2L583.6 1092.3L584.8 1092.5L586.0 1092.7L587.2 1092.8L588.4 1093.0L589.6 1093.2L590.8 1093.4L592.0 1093.5L593.2 1093.7L594.4 1093.9L595.5 1094.0L596.7 1094.2L597.9 1094.4L599.1 1094.5L600.3 1094.7L601.5 1094.9L602.7 1095.0L603.9 1095.2L605.1 1095.4L606.3 1095.6L607.4 1095.7L608.6 1095.9L609.8 1096.1L611.0 1096.2L612.2 1096.4L613.4 1096.6L614.6 1096.7L615.8 1096.9L617.0 1097.1L618.2 1097.2L619.4 1097.4L620.5 1097.6L621.7 1097.7L622.9 1097.9L624.1 1098.1L625.3 1098.2L626.5 1098.4L627.7 1098.6L628.9 1098.7L630.1 1098.9L631.3 1099.1L632.4 1099.2L633.6 1099.4L634.8 1099.6L636.0 1099.7L637.2 1099.9L638.4 1100.1L639.6 1100.2L640.8 1100.4L642.0 1100.6L643.2 1100.7L644.3 1100.9L645.5 1101.1L646.7 1101.2L647.9 1101.4L649.1 1101.6L650.3 1101.7L651.5 1101.9L652.7 1102.1L653.9 1102.2L655.1 1102.4L656.3 1102.6L657.4 1102.7L658.6 1102.9L659.8 1103.1L661.0 1103.2L662.2 1103.4L663.4 1103.6L664.6 1103.7L665.8 1103.9L667.0 1104.1L668.2 1104.2L669.3 1104.4L670.5 1104.6L671.7 1104.7L672.9 1104.9L674.1 1105.1L675.3 1105.2L676.5 1105.4L677.7 1105.6L678.9 1105.7L680.1 1105.9L681.3 1106.0L682.4 1106.2L683.6 1106.4L684.8 1106.5L686.0 1106.7L687.2 1106.9L688.4 1107.0L689.6 1107.2L690.8 1107.3L692.0 1107.5L693.2 1107.7L694.3 1107.8L695.5 1108.0L696.7 1108.1L697.9 1108.3L699.1 1108.4L700.3 1108.6L701.5 1108.8L702.7 1108.9L703.9 1109.1L705.1 1109.2L706.3 1109.4L707.4 1109.5L708.6 1109.7L709.8 1109.8L711.0 1110.0L712.2 1110.1L713.4 1110.3L714.6 1110.5L715.8 1110.6L717.0 1110.8L718.2 1110.9L719.3 1111.1L720.5 1111.2L721.7 1111.4L722.9 1111.5L724.1 1111.7L725.3 1111.8L726.5 1112.0L727.7 1112.1L728.9 1112.3L730.1 1112.4L731.3 1112.5L732.4 1112.7L733.6 1112.8L734.8 1113.0L736.0 1113.1L737.2 1113.3L738.4 1113.4L739.6 1113.6L740.8 1113.7L742.0 1113.9L743.2 1114.0L744.3 1114.2L745.5 1114.3L746.7 1114.5L747.9 1114.6L749.1 1114.7L750.3 1114.9L751.5 1115.0L752.7 1115.2L753.9 1115.3L755.1 1115.5L756.3 1115.6L757.4 1115.7L758.6 1115.9L759.8 1116.0L761.0 1116.2L762.2 1116.3L763.4 1116.4L764.6 1116.6L765.8 1116.7L767.0 1116.9L768.2 1117.0L769.3 1117.1L770.5 1117.3L771.7 1117.4L772.9 1117.6L774.1 1117.7L775.3 1117.8L776.5 1118.0L777.7 1118.1L778.9 1118.3L780.1 1118.4L781.2 1118.5L782.4 1118.7L783.6 1118.8L784.8 1118.9L786.0 1119.1L787.2 1119.2L788.4 1119.3L789.6 1119.5L790.8 1119.6L792.0 1119.8L793.2 1119.9L794.4 1120.0L795.6 1120.2L796.7 1120.3L797.9 1120.4L799.1 1120.6L800.3 1120.7L801.5 1120.8L802.7 1121.0L803.9 1121.1L805.1 1121.2L806.3 1121.3L807.5 1121.5L808.7 1121.6L809.9 1121.7L811.0 1121.9L812.2 1122.0L813.4 1122.1L814.6 1122.3L815.8 1122.4L817.0 1122.5L818.2 1122.7L819.4 1122.8L820.6 1122.9L821.8 1123.0L823.0 1123.2L824.2 1123.3L825.4 1123.4L826.5 1123.6L827.7 1123.7L828.9 1123.8L830.1 1123.9L831.3 1124.1L832.5 1124.2L833.7 1124.3L834.9 1124.5L836.1 1124.6L837.3 1124.7L838.5 1124.8L839.7 1125.0L840.9 1125.1L842.0 1125.2L843.2 1125.3L844.4 1125.5L845.6 1125.6L846.8 1125.7L848.0 1125.9L849.2 1126.0L850.4 1126.1L851.6 1126.2L852.8 1126.4L854.0 1126.5L855.2 1126.6L856.4 1126.7L857.5 1126.9L858.7 1127.0L859.9 1127.1L861.1 1127.2L862.3 1127.4L863.5 1127.5L864.7 1127.6L865.9 1127.8L867.1 1127.9L868.3 1128.0L869.5 1128.1L870.7 1128.3L871.9 1128.4L873.0 1128.5L874.2 1128.6L875.4 1128.8L876.6 1128.9L877.8 1129.0L879.0 1129.1L880.2 1129.3L881.4 1129.4L882.6 1129.5L883.8 1129.7L885.0 1129.8L886.2 1129.9L887.4 1130.0L888.5 1130.2L889.7 1130.3L890.9 1130.4L892.1 1130.6L893.3 1130.7L894.5 1130.8L895.1 1130.9" fill="none" stroke="#dc2f36" stroke-width="2.6" stroke-linejoin="round"/>
<path d="M302.2 992.7L302.8 992.2L303.4 991.4L304.1 990.4L304.8 989.2L305.5 987.8L306.2 986.2L306.8 984.5L307.5 982.6L308.2 980.6L308.8 978.4L309.5 976.0L310.1 973.5L310.8 971.0L311.4 968.7L312.0 966.3L312.7 964.0L313.3 961.6L313.9 959.2L314.6 956.7L315.2 954.1L315.8 951.4L316.4 948.6L317.0 945.9L317.6 943.1L318.2 940.1L318.8 937.1L319.4 934.1L320.0 931.0L320.6 928.0L321.2 924.9L321.8 921.9L322.4 918.7L323.0 915.5L323.7 912.4L324.3 909.3L324.9 906.4L325.6 903.5L326.2 900.8L326.9 898.2L327.5 895.8L328.1 893.6L328.8 891.6L329.4 889.9L330.1 888.3L330.7 887.0L331.3 885.9L332.6 884.0L333.8 882.5L335.0 881.3L336.3 880.3L337.5 879.5L338.8 878.7L340.0 878.0L341.2 877.4L342.5 876.7L343.7 876.1L344.9 875.5L346.1 875.0L347.3 874.4L348.4 873.9L349.6 873.4L350.8 872.9L352.0 872.4L353.2 871.9L354.4 871.3L355.6 870.8L356.7 870.3L357.9 869.7L359.1 869.1L360.3 868.4L361.5 867.7L362.7 867.0L364.0 866.2L365.2 865.4L366.4 864.5L367.6 863.6L368.8 862.7L370.0 861.7L371.2 860.7L372.5 859.6L373.7 858.5L374.9 857.3L376.2 856.0L377.4 854.8L378.7 853.5L379.9 852.2L381.1 851.0L382.4 849.8L383.6 848.7L384.9 847.7L386.1 846.8L387.3 845.9L388.5 845.1L389.7 844.4L390.9 843.7L392.1 843.1L393.3 842.5L394.5 841.9L395.7 841.4L397.0 840.9L398.2 840.4L399.4 840.0L400.6 839.6L401.8 839.2L403.0 838.8L404.2 838.4L405.4 838.1L406.6 837.7L407.7 837.4L408.9 837.1L410.1 836.8L411.3 836.5L412.5 836.3L413.7 836.0L414.9 835.7L416.0 835.5L417.2 835.2L418.4 835.0L419.6 834.7L420.8 834.5L422.0 834.2L423.2 834.0L424.3 833.8L425.5 833.6L426.7 833.4L427.9 833.2L429.1 833.0L430.3 832.8L431.5 832.6L432.6 832.4L433.8 832.2L435.0 832.1L436.2 831.9L437.4 831.7L438.6 831.6L439.8 831.4L440.9 831.3L442.1 831.1L443.3 831.0L444.5 830.9L445.7 830.7L446.9 830.6L448.1 830.5L449.2 830.4L450.4 830.2L451.6 830.1L452.8 830.0L454.0 829.9L455.2 829.8L456.4 829.7L457.5 829.6L458.7 829.5L459.9 829.4L461.1 829.3L462.3 829.1L463.5 829.0L464.7 828.9L465.8 828.8L467.0 828.7L468.2 828.6L469.4 828.5L470.6 828.4L471.8 828.3L473.0 828.2L474.1 828.0L475.3 827.9L476.5 827.8L477.7 827.7L478.9 827.5L480.1 827.4L481.3 827.3L482.5 827.1L483.6 827.0L484.8 826.8L486.0 826.7L487.2 826.5L488.4 826.4L489.6 826.2L490.8 826.1L492.0 825.9L493.2 825.8L494.4 825.6L495.5 825.4L496.7 825.3L497.9 825.1L499.1 825.0L500.3 824.8L501.5 824.6L502.7 824.5L503.9 824.3L505.1 824.1L506.3 824.0L507.4 823.8L508.6 823.6L509.8 823.4L511.0 823.3L512.2 823.1L513.4 822.9L514.6 822.7L515.8 822.6L517.0 822.4L518.2 822.2L519.4 822.0L520.5 821.9L521.7 821.7L522.9 821.5L524.1 821.3L525.3 821.1L526.5 821.0L527.7 820.8L528.9 820.6L530.1 820.4L531.3 820.3L532.4 820.1L533.6 819.9L534.8 819.7L536.0 819.6L537.2 819.4L538.4 819.2L539.6 819.0L540.8 818.9L542.0 818.7L543.2 818.5L544.4 818.3L545.5 818.2L546.7 818.0L547.9 817.8L549.1 817.7L550.3 817.5L551.5 817.3L552.7 817.2L553.9 817.0L555.1 816.9L556.3 816.7L557.4 816.5L558.6 816.4L559.8 816.2L561.0 816.1L562.2 815.9L563.4 815.8L564.6 815.6L565.8 815.5L567.0 815.3L568.2 815.2L569.4 815.0L570.5 814.9L571.7 814.7L572.9 814.6L574.1 814.4L575.3 814.3L576.5 814.1L577.7 814.0L578.9 813.8L580.1 813.7L581.3 813.5L582.4 813.4L583.6 813.2L584.8 813.1L586.0 813.0L587.2 812.8L588.4 812.7L589.6 812.5L590.8 812.4L592.0 812.2L593.2 812.1L594.4 811.9L595.5 811.8L596.7 811.7L597.9 811.5L599.1 811.4L600.3 811.2L601.5 811.1L602.7 810.9L603.9 810.8L605.1 810.6L606.3 810.5L607.4 810.3L608.6 810.2L609.8 810.1L611.0 809.9L612.2 809.8L613.4 809.6L614.6 809.5L615.8 809.3L617.0 809.2L618.2 809.0L619.4 808.9L620.5 808.7L621.7 808.5L622.9 808.4L624.1 808.2L625.3 808.1L626.5 807.9L627.7 807.8L628.9 807.6L630.1 807.5L631.3 807.3L632.4 807.1L633.6 807.0L634.8 806.8L636.0 806.6L637.2 806.5L638.4 806.3L639.6 806.1L640.8 806.0L642.0 805.8L643.2 805.6L644.3 805.5L645.5 805.3L646.7 805.1L647.9 805.0L649.1 804.8L650.3 804.6L651.5 804.5L652.7 804.3L653.9 804.1L655.1 803.9L656.3 803.8L657.4 803.6L658.6 803.4L659.8 803.2L661.0 803.1L662.2 802.9L663.4 802.7L664.6 802.5L665.8 802.4L667.0 802.2L668.2 802.0L669.3 801.8L670.5 801.7L671.7 801.5L672.9 801.3L674.1 801.1L675.3 800.9L676.5 800.8L677.7 800.6L678.9 800.4L680.1 800.2L681.3 800.0L682.4 799.9L683.6 799.7L684.8 799.5L686.0 799.3L687.2 799.1L688.4 798.9L689.6 798.8L690.8 798.6L692.0 798.4L693.2 798.2L694.3 798.0L695.5 797.8L696.7 797.7L697.9 797.5L699.1 797.3L700.3 797.1L701.5 796.9L702.7 796.7L703.9 796.5L705.1 796.4L706.3 796.2L707.4 796.0L708.6 795.8L709.8 795.6L711.0 795.4L712.2 795.2L713.4 795.1L714.6 794.9L715.8 794.7L717.0 794.5L718.2 794.3L719.3 794.1L720.5 793.9L721.7 793.7L722.9 793.5L724.1 793.3L725.3 793.2L726.5 793.0L727.7 792.8L728.9 792.6L730.1 792.4L731.3 792.2L732.4 792.0L733.6 791.8L734.8 791.6L736.0 791.4L737.2 791.2L738.4 791.0L739.6 790.8L740.8 790.6L742.0 790.4L743.2 790.3L744.3 790.1L745.5 789.9L746.7 789.7L747.9 789.5L749.1 789.3L750.3 789.1L751.5 788.9L752.7 788.7L753.9 788.5L755.1 788.3L756.3 788.1L757.4 787.9L758.6 787.7L759.8 787.5L761.0 787.3L762.2 787.1L763.4 786.9L764.6 786.7L765.8 786.5L767.0 786.3L768.2 786.1L769.3 785.9L770.5 785.7L771.7 785.5L772.9 785.3L774.1 785.1L775.3 784.9L776.5 784.7L777.7 784.5L778.9 784.3L780.1 784.1L781.2 783.9L782.4 783.7L783.6 783.5L784.8 783.3L786.0 783.1L787.2 782.9L788.4 782.7L789.6 782.5L790.8 782.2L792.0 782.0L793.2 781.8L794.4 781.6L795.6 781.4L796.7 781.2L797.9 781.0L799.1 780.8L800.3 780.6L801.5 780.4L802.7 780.2L803.9 780.0L805.1 779.8L806.3 779.6L807.5 779.4L808.7 779.2L809.9 779.0L811.0 778.7L812.2 778.5L813.4 778.3L814.6 778.1L815.8 777.9L817.0 777.7L818.2 777.5L819.4 777.3L820.6 777.1L821.8 776.9L823.0 776.7L824.2 776.4L825.4 776.2L826.5 776.0L827.7 775.8L828.9 775.6L830.1 775.4L831.3 775.2L832.5 775.0L833.7 774.8L834.9 774.6L836.1 774.3L837.3 774.1L838.5 773.9L839.7 773.7L840.9 773.5L842.0 773.3L843.2 773.1L844.4 772.9L845.6 772.6L846.8 772.4L848.0 772.2L849.2 772.0L850.4 771.8L851.6 771.6L852.8 771.4L854.0 771.2L855.2 771.0L856.4 770.7L857.5 770.5L858.7 770.3L859.9 770.1L861.1 769.9L862.3 769.7L863.5 769.5L864.7 769.3L865.9 769.0L867.1 768.8L868.3 768.6L869.5 768.4L870.7 768.2L871.9 768.0L873.0 767.8L874.2 767.6L875.4 767.4L876.6 767.1L877.8 766.9L879.0 766.7L880.2 766.5L881.4 766.3L882.6 766.1L883.8 765.9L885.0 765.7L886.2 765.5L887.4 765.2L888.5 765.0L889.7 764.8L890.9 764.6L892.1 764.4L893.3 764.2L894.5 764.0L895.1 763.9" fill="none" stroke="#2222dd" stroke-width="2.8" stroke-linejoin="round"/>
<path d="M302.2 992.7L302.8 994.2L303.4 995.7L304.0 997.1L304.6 998.5L305.2 999.9L305.8 1001.3L306.4 1002.9L306.9 1004.5L307.5 1006.2L308.1 1008.1L308.7 1010.2L309.4 1012.7L310.0 1015.6L310.6 1018.6L311.3 1021.8L311.9 1025.0L312.5 1028.2L313.2 1031.3L313.8 1034.1L314.4 1036.8L314.9 1039.3L315.5 1041.7L316.1 1044.0L316.7 1046.0L317.3 1047.9L318.0 1049.6L318.6 1051.2L319.2 1052.6L319.9 1053.9L320.5 1055.0L321.1 1056.0L321.8 1056.8L322.4 1057.6L323.0 1058.3L323.6 1058.9L324.2 1059.5L324.8 1060.0L325.4 1060.5L326.0 1061.0L326.6 1061.4L327.3 1061.8L327.9 1062.2L328.5 1062.6L329.1 1063.0L329.7 1063.4L330.3 1063.8L330.9 1064.1L331.5 1064.5L332.7 1065.2L334.0 1065.9L335.2 1066.5L336.4 1067.2L337.6 1067.8L338.8 1068.4L340.0 1068.9L341.3 1069.5L342.5 1070.0L343.7 1070.5L344.9 1071.0L346.1 1071.5L347.3 1072.0L348.5 1072.4L349.7 1072.9L350.9 1073.3L352.1 1073.8L353.3 1074.2L354.5 1074.6L355.7 1075.0L356.9 1075.4L358.1 1075.8L359.3 1076.2L360.5 1076.6L361.7 1076.9L362.9 1077.3L364.1 1077.7L365.3 1078.0L366.5 1078.4L367.7 1078.8L369.0 1079.1L370.2 1079.4L371.4 1079.8L372.6 1080.1L373.8 1080.4L375.0 1080.8L376.2 1081.1L377.4 1081.4L378.6 1081.7L379.8 1082.0L381.0 1082.3L382.2 1082.6L383.4 1082.9L384.6 1083.2L385.8 1083.4L387.0 1083.7L388.2 1084.0L389.4 1084.2L390.6 1084.5L391.8 1084.7L393.0 1084.9L394.2 1085.2L395.4 1085.4L396.6 1085.6L397.8 1085.9L399.0 1086.1L400.1 1086.3L401.3 1086.5L402.5 1086.7L403.7 1086.9L404.9 1087.2L406.1 1087.4L407.3 1087.6L408.5 1087.8L409.7 1088.0L410.9 1088.2L412.1 1088.4L413.3 1088.6L414.5 1088.8L415.7 1089.0L416.9 1089.2L418.1 1089.4L419.3 1089.6L420.5 1089.8L421.7 1090.0L422.9 1090.2L424.1 1090.4L425.3 1090.6L426.5 1090.8L427.7 1091.0L428.9 1091.2L430.1 1091.4L431.3 1091.6L432.5 1091.8L433.7 1092.0L434.9 1092.2L436.1 1092.3L437.3 1092.5L438.5 1092.7L439.7 1092.9L440.9 1093.1L442.1 1093.3L443.3 1093.4L444.5 1093.6L445.7 1093.8L446.9 1093.9L448.1 1094.1L449.3 1094.3L450.5 1094.4L451.7 1094.6L452.9 1094.8L454.1 1094.9L455.3 1095.1L456.5 1095.2L457.7 1095.4L458.9 1095.5L460.2 1095.7L461.4 1095.8L462.6 1096.0L463.8 1096.1L465.0 1096.3L466.2 1096.4L467.4 1096.6L468.6 1096.7L469.8 1096.9L471.0 1097.0L472.2 1097.1L473.4 1097.3L474.6 1097.4L475.8 1097.6L477.1 1097.7L478.3 1097.8L479.5 1098.0L480.7 1098.1L481.9 1098.3L483.0 1098.4L484.2 1098.5L485.4 1098.7L486.6 1098.8L487.8 1099.0L489.0 1099.1L490.2 1099.2L491.4 1099.4L492.6 1099.5L493.8 1099.6L495.0 1099.8L496.1 1099.9L497.3 1100.0L498.5 1100.2L499.7 1100.3L500.9 1100.5L502.1 1100.6L503.3 1100.7L504.5 1100.9L505.7 1101.0L506.9 1101.1L508.0 1101.3L509.2 1101.4L510.4 1101.5L511.6 1101.7L512.8 1101.8L514.0 1101.9L515.2 1102.1L516.4 1102.2L517.6 1102.3L518.8 1102.5L519.9 1102.6L521.1 1102.7L522.3 1102.9L523.5 1103.0L524.7 1103.1L525.9 1103.2L527.1 1103.4L528.3 1103.5L529.5 1103.6L530.7 1103.8L531.9 1103.9L533.0 1104.0L534.2 1104.1L535.4 1104.3L536.6 1104.4L537.8 1104.5L539.0 1104.6L540.2 1104.8L541.4 1104.9L542.6 1105.0L543.8 1105.1L544.9 1105.3L546.1 1105.4L547.3 1105.5L548.5 1105.6L549.7 1105.7L550.9 1105.9L552.1 1106.0L553.3 1106.1L554.5 1106.2L555.7 1106.3L556.9 1106.5L558.0 1106.6L559.2 1106.7L560.4 1106.8L561.6 1106.9L562.8 1107.0L564.0 1107.2L565.2 1107.3L566.4 1107.4L567.6 1107.5L568.8 1107.6L569.9 1107.7L571.1 1107.8L572.3 1107.9L573.5 1108.1L574.7 1108.2L575.9 1108.3L577.1 1108.4L578.3 1108.5L579.5 1108.6L580.7 1108.7L581.9 1108.8L583.0 1108.9L584.2 1109.0L585.4 1109.1L586.6 1109.3L587.8 1109.4L589.0 1109.5L590.2 1109.6L591.4 1109.7L592.6 1109.8L593.8 1109.9L594.9 1110.0L596.1 1110.1L597.3 1110.2L598.5 1110.3L599.7 1110.4L600.9 1110.5L602.1 1110.6L603.3 1110.7L604.5 1110.8L605.7 1110.9L606.9 1111.0L608.0 1111.1L609.2 1111.2L610.4 1111.4L611.6 1111.5L612.8 1111.6L614.0 1111.7L615.2 1111.8L616.4 1111.9L617.6 1112.0L618.8 1112.1L619.9 1112.2L621.1 1112.3L622.3 1112.4L623.5 1112.5L624.7 1112.6L625.9 1112.7L627.1 1112.8L628.3 1112.9L629.5 1113.0L630.7 1113.1L631.9 1113.2L633.0 1113.3L634.2 1113.4L635.4 1113.5L636.6 1113.6L637.8 1113.7L639.0 1113.9L640.2 1114.0L641.4 1114.1L642.6 1114.2L643.8 1114.3L644.9 1114.4L646.1 1114.5L647.3 1114.6L648.5 1114.7L649.7 1114.8L650.9 1114.9L652.1 1115.0L653.3 1115.1L654.5 1115.2L655.7 1115.3L656.8 1115.4L658.0 1115.5L659.2 1115.6L660.4 1115.7L661.6 1115.8L662.8 1116.0L664.0 1116.1L665.2 1116.2L666.4 1116.3L667.6 1116.4L668.8 1116.5L669.9 1116.6L671.1 1116.7L672.3 1116.8L673.5 1116.9L674.7 1117.0L675.9 1117.1L677.1 1117.2L678.3 1117.3L679.5 1117.4L680.7 1117.5L681.8 1117.6L683.0 1117.7L684.2 1117.8L685.4 1117.9L686.6 1118.0L687.8 1118.1L689.0 1118.2L690.2 1118.3L691.4 1118.4L692.6 1118.5L693.8 1118.6L694.9 1118.7L696.1 1118.8L697.3 1118.9L698.5 1119.0L699.7 1119.1L700.9 1119.2L702.1 1119.3L703.3 1119.4L704.5 1119.5L705.7 1119.6L706.8 1119.7L708.0 1119.8L709.2 1119.9L710.4 1120.0L711.6 1120.1L712.8 1120.2L714.0 1120.3L715.2 1120.4L716.4 1120.5L717.6 1120.5L718.8 1120.6L719.9 1120.7L721.1 1120.8L722.3 1120.9L723.5 1121.0L724.7 1121.1L725.9 1121.2L727.1 1121.3L728.3 1121.4L729.5 1121.5L730.7 1121.6L731.8 1121.7L733.0 1121.8L734.2 1121.8L735.4 1121.9L736.6 1122.0L737.8 1122.1L739.0 1122.2L740.2 1122.3L741.4 1122.4L742.6 1122.5L743.8 1122.6L744.9 1122.7L746.1 1122.8L747.3 1122.8L748.5 1122.9L749.7 1123.0L750.9 1123.1L752.1 1123.2L753.3 1123.3L754.5 1123.4L755.7 1123.5L756.8 1123.5L758.0 1123.6L759.2 1123.7L760.4 1123.8L761.6 1123.9L762.8 1124.0L764.0 1124.1L765.2 1124.2L766.4 1124.2L767.6 1124.3L768.7 1124.4L769.9 1124.5L771.1 1124.6L772.3 1124.7L773.5 1124.7L774.7 1124.8L775.9 1124.9L777.1 1125.0L778.3 1125.1L779.5 1125.1L780.7 1125.2L781.8 1125.3L783.0 1125.4L784.2 1125.5L785.4 1125.5L786.6 1125.6L787.8 1125.7L789.0 1125.8L790.2 1125.9L791.4 1125.9L792.6 1126.0L793.8 1126.1L795.0 1126.2L796.1 1126.2L797.3 1126.3L798.5 1126.4L799.7 1126.5L800.9 1126.5L802.1 1126.6L803.3 1126.7L804.5 1126.8L805.7 1126.8L806.9 1126.9L808.1 1127.0L809.3 1127.1L810.5 1127.1L811.6 1127.2L812.8 1127.3L814.0 1127.3L815.2 1127.4L816.4 1127.5L817.6 1127.6L818.8 1127.6L820.0 1127.7L821.2 1127.8L822.4 1127.8L823.6 1127.9L824.8 1128.0L826.0 1128.1L827.1 1128.1L828.3 1128.2L829.5 1128.3L830.7 1128.3L831.9 1128.4L833.1 1128.5L834.3 1128.5L835.5 1128.6L836.7 1128.7L837.9 1128.8L839.1 1128.8L840.3 1128.9L841.5 1129.0L842.6 1129.0L843.8 1129.1L845.0 1129.2L846.2 1129.2L847.4 1129.3L848.6 1129.4L849.8 1129.4L851.0 1129.5L852.2 1129.6L853.4 1129.7L854.6 1129.7L855.8 1129.8L856.9 1129.9L858.1 1129.9L859.3 1130.0L860.5 1130.1L861.7 1130.1L862.9 1130.2L864.1 1130.3L865.3 1130.3L866.5 1130.4L867.7 1130.5L868.9 1130.5L870.1 1130.6L871.3 1130.7L872.4 1130.7L873.6 1130.8L874.8 1130.9L876.0 1131.0L877.2 1131.0L878.4 1131.1L879.6 1131.2L880.8 1131.2L882.0 1131.3L883.2 1131.4L884.4 1131.4L885.6 1131.5L886.8 1131.6L887.9 1131.6L889.1 1131.7L890.3 1131.8L891.5 1131.9L892.7 1131.9L893.9 1132.0L895.1 1132.1" fill="none" stroke="#2222dd" stroke-width="2.8" stroke-linejoin="round"/>
<text x="284.5" y="1207.6" text-anchor="end" class="tl" style="font-size:28px">0.8</text>
<text x="284.5" y="1147.9" text-anchor="end" class="tl" style="font-size:28px">1.0</text>
<text x="284.5" y="1088.2" text-anchor="end" class="tl" style="font-size:28px">1.2</text>
<text x="284.5" y="1028.6" text-anchor="end" class="tl" style="font-size:28px">1.4</text>
<text x="284.5" y="968.9" text-anchor="end" class="tl" style="font-size:28px">1.6</text>
<text x="284.5" y="909.2" text-anchor="end" class="tl" style="font-size:28px">1.8</text>
<text x="284.5" y="849.5" text-anchor="end" class="tl" style="font-size:28px">2.0</text>
<text x="284.5" y="789.9" text-anchor="end" class="tl" style="font-size:28px">2.2</text>
<text x="284.5" y="730.2" text-anchor="end" class="tl" style="font-size:28px">2.4</text>
<text x="302.2" y="1238" text-anchor="middle" class="tl" style="font-size:28px">0</text>
<text x="450.4" y="1238" text-anchor="middle" class="tl" style="font-size:28px">5</text>
<text x="598.7" y="1238" text-anchor="middle" class="tl" style="font-size:28px">10</text>
<text x="746.9" y="1238" text-anchor="middle" class="tl" style="font-size:28px">15</text>
<text x="895.1" y="1238" text-anchor="middle" class="tl" style="font-size:28px">20</text>
<!-- legend a -->
<path d="M225 117.6H301.5" stroke="#111" stroke-width="2.2"/>
<path d="M475 117.6H550.5" stroke="#dc2f36" stroke-width="2.2"/>
<path d="M767 117.6H843" stroke="#2222dd" stroke-width="2.2"/>
<text x="310.6" y="128.6" style="font-size:33.4px">Bare GDL</text>
<text x="560.3" y="128.6" style="font-size:33.4px">MnOx/Co-Fe</text>
<text x="851.7" y="128.6" style="font-size:33.4px">Pt/C</text>
<!-- legend b -->
<path d="M615 926.2H688.5" stroke="#111" stroke-width="2.2"/>
<path d="M615 966H688.5" stroke="#dc2f36" stroke-width="2.2"/>
<path d="M615 1006H688.5" stroke="#2222dd" stroke-width="2.2"/>
<text x="697" y="935.8" style="font-size:32.5px">Bare GDL</text>
<text x="697" y="975.6" style="font-size:32.5px">MnOx/Co-Fe</text>
<text x="697" y="1015.6" style="font-size:32.5px">Pt/C</text>
<!-- axis titles -->
<text x="515.6" y="630.2" style="font-size:31.6px">Time (h)</text>
<text x="515.5" y="1269.5" style="font-size:30px">j (mA cm<tspan dy="-13" style="font-size:19px">-2</tspan><tspan dy="13">)</tspan></text>
<text transform="translate(30.6,408.3) rotate(-90)" style="font-size:31.2px">E.vs Zn/Zn<tspan dy="-13" style="font-size:19px">2+</tspan><tspan dy="13"> (V)</tspan></text>
<text transform="translate(226,1048.6) rotate(-90)" style="font-size:35px">E.vs Zn/Zn<tspan dy="-15.5" style="font-size:21.5px">2+</tspan></text>
</svg>
</body></html>
